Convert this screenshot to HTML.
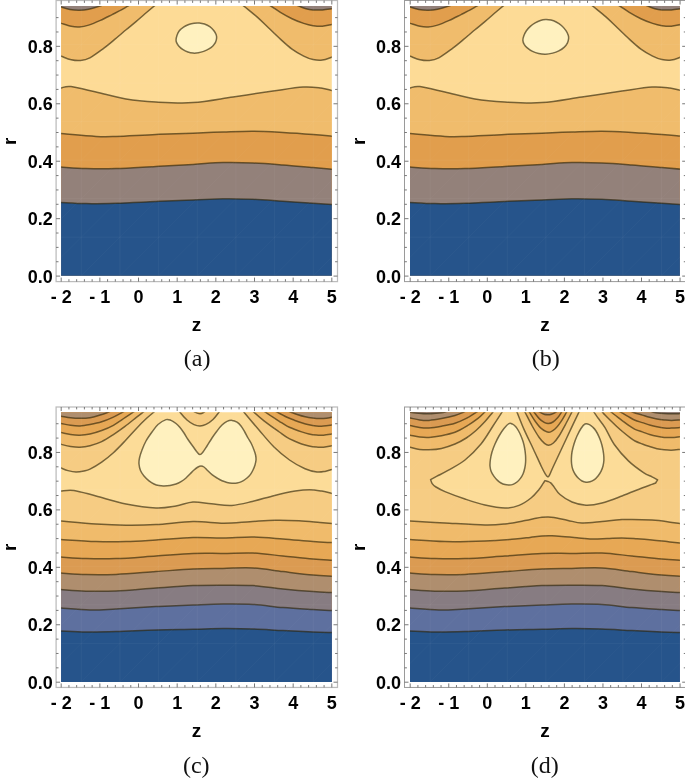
<!DOCTYPE html>
<html><head><meta charset="utf-8"><title>contours</title>
<style>
html,body{margin:0;padding:0;background:#fff;}
body{width:685px;height:779px;overflow:hidden;}
svg{display:block;}
.tl{font-family:"Liberation Sans",sans-serif;font-weight:bold;font-size:18px;fill:#000;}
.al{font-family:"Liberation Sans",sans-serif;font-weight:bold;font-size:19px;fill:#000;}
.cap{font-family:"Liberation Serif",serif;font-size:24px;fill:#111;}
</style></head><body>
<svg width="685" height="779" viewBox="0 0 685 779">
<rect width="685" height="779" fill="#fff"/>
<defs>
<clipPath id="ca"><rect x="61.1" y="6.1" width="270.7" height="269.6"/></clipPath>
<clipPath id="cb"><rect x="410.0" y="6.1" width="269.9" height="269.6"/></clipPath>
<clipPath id="cc"><rect x="61.1" y="412.2" width="270.7" height="269.7"/></clipPath>
<clipPath id="cd"><rect x="410.0" y="412.2" width="269.9" height="269.7"/></clipPath>
</defs>
<g clip-path="url(#ca)"><rect x="50.00" y="-5.00" width="290" height="290" fill="#FDDB96"/>
<path d="M56.00 89.00C56.83 88.83 58.50 88.40 61.00 88.00C63.50 87.60 65.17 85.93 71.00 86.60C76.83 87.27 86.83 89.93 96.00 92.00C105.17 94.07 116.00 97.33 126.00 99.00C136.00 100.67 144.83 101.40 156.00 102.00C167.17 102.60 180.17 103.43 193.00 102.60C205.83 101.77 219.67 98.93 233.00 97.00C246.33 95.07 261.33 92.67 273.00 91.00C284.67 89.33 295.00 87.50 303.00 87.00C311.00 86.50 316.17 87.42 321.00 88.00C325.83 88.58 329.33 89.92 332.00 90.50C334.67 91.08 336.17 91.33 337.00 91.50L337.00 280.70 L56.00 280.70 Z" fill="#F0BC6C"/>
<path d="M56.00 133.20C56.83 133.27 54.33 133.07 61.00 133.60C67.67 134.13 86.83 135.93 96.00 136.40C105.17 136.87 106.00 136.73 116.00 136.40C126.00 136.07 143.17 134.93 156.00 134.40C168.83 133.87 181.83 133.60 193.00 133.20C204.17 132.80 213.00 132.33 223.00 132.00C233.00 131.67 243.00 131.13 253.00 131.20C263.00 131.27 273.00 131.87 283.00 132.40C293.00 132.93 304.83 133.77 313.00 134.40C321.17 135.03 328.00 135.82 332.00 136.20C336.00 136.58 336.17 136.62 337.00 136.70L337.00 280.70 L56.00 280.70 Z" fill="#E19E4D"/>
<path d="M56.00 166.60C56.83 166.67 56.00 166.67 61.00 167.00C66.00 167.33 76.83 168.33 86.00 168.60C95.17 168.87 104.33 168.97 116.00 168.60C127.67 168.23 143.17 167.10 156.00 166.40C168.83 165.70 181.83 165.03 193.00 164.40C204.17 163.77 213.00 162.83 223.00 162.60C233.00 162.37 243.00 162.60 253.00 163.00C263.00 163.40 273.00 164.23 283.00 165.00C293.00 165.77 304.83 166.90 313.00 167.60C321.17 168.30 328.00 168.87 332.00 169.20C336.00 169.53 336.17 169.53 337.00 169.60L337.00 280.70 L56.00 280.70 Z" fill="#93817A"/>
<path d="M56.00 202.10C56.83 202.15 56.00 202.15 61.00 202.40C66.00 202.65 76.83 203.47 86.00 203.60C95.17 203.73 104.33 203.55 116.00 203.20C127.67 202.85 143.17 202.03 156.00 201.50C168.83 200.97 181.83 200.45 193.00 200.00C204.17 199.55 213.00 198.92 223.00 198.80C233.00 198.68 243.00 198.88 253.00 199.30C263.00 199.72 273.00 200.63 283.00 201.30C293.00 201.97 304.83 202.77 313.00 203.30C321.17 203.83 328.00 204.25 332.00 204.50C336.00 204.75 336.17 204.75 337.00 204.80L337.00 280.70 L56.00 280.70 Z" fill="#26548B"/>
<path d="M56.00 54.30C56.88 54.63 58.77 55.38 61.30 56.30C63.83 57.22 68.00 59.10 71.20 59.80C74.40 60.50 77.38 60.83 80.50 60.50C83.62 60.17 86.20 59.70 89.90 57.80C93.60 55.90 98.62 52.12 102.70 49.10C106.78 46.08 110.50 42.92 114.40 39.70C118.30 36.48 122.50 32.82 126.10 29.80C129.70 26.78 132.85 24.27 136.00 21.60C139.15 18.93 142.00 16.37 145.00 13.80C148.00 11.23 151.50 8.33 154.00 6.20C156.50 4.07 159.00 1.87 160.00 1.00L50.00 -5.00Z" fill="#F0BC6C"/>
<path d="M56.00 21.60C56.88 21.90 58.77 22.62 61.30 23.40C63.83 24.18 68.18 25.72 71.20 26.30C74.22 26.88 76.48 27.10 79.40 26.90C82.32 26.70 85.20 26.18 88.70 25.10C92.20 24.02 96.50 22.15 100.40 20.40C104.30 18.65 108.60 16.35 112.10 14.60C115.60 12.85 118.78 11.32 121.40 9.90C124.02 8.48 125.53 7.42 127.80 6.10C130.07 4.78 133.80 2.68 135.00 2.00L50.00 -5.00Z" fill="#E19E4D"/>
<path d="M56.00 5.00C56.88 5.33 58.97 6.23 61.30 7.00C63.63 7.77 66.98 9.05 70.00 9.60C73.02 10.15 76.28 10.35 79.40 10.30C82.52 10.25 85.30 10.00 88.70 9.30C92.10 8.60 96.92 7.07 99.80 6.10C102.68 5.13 104.97 3.93 106.00 3.50L50.00 -5.00Z" fill="#93817A"/>
<path d="M337.00 55.20C336.12 55.53 334.13 56.38 331.70 57.20C329.27 58.02 325.50 59.70 322.40 60.10C319.30 60.50 316.22 60.27 313.10 59.60C309.98 58.93 307.22 57.85 303.70 56.10C300.18 54.35 295.88 51.93 292.00 49.10C288.12 46.27 284.28 42.62 280.40 39.10C276.52 35.58 272.60 31.70 268.70 28.00C264.80 24.30 261.12 20.53 257.00 16.90C252.88 13.27 247.17 8.85 244.00 6.20C240.83 3.55 239.00 1.87 238.00 1.00L340.00 -5.00Z" fill="#F0BC6C"/>
<path d="M337.00 23.40C336.12 23.58 334.13 24.02 331.70 24.50C329.27 24.98 325.50 26.10 322.40 26.30C319.30 26.50 316.22 26.18 313.10 25.70C309.98 25.22 307.22 24.57 303.70 23.40C300.18 22.23 295.88 20.55 292.00 18.70C288.12 16.85 283.90 14.40 280.40 12.30C276.90 10.20 274.07 7.98 271.00 6.10C267.93 4.22 263.50 1.85 262.00 1.00L340.00 -5.00Z" fill="#E19E4D"/>
<path d="M337.00 8.00C336.12 8.13 334.13 8.48 331.70 8.80C329.27 9.12 325.52 9.72 322.40 9.90C319.28 10.08 315.73 10.08 313.00 9.90C310.27 9.72 308.33 9.43 306.00 8.80C303.67 8.17 301.33 7.07 299.00 6.10C296.67 5.13 293.17 3.52 292.00 3.00L340.00 -5.00Z" fill="#93817A"/>
<path d="M176.07 39.78C176.14 38.61 176.44 36.86 176.95 35.40C177.46 33.94 178.04 32.41 179.14 31.02C180.23 29.63 181.92 28.17 183.52 27.08C185.12 25.98 187.02 25.11 188.77 24.45C190.52 23.79 192.28 23.39 194.03 23.14C195.78 22.89 197.53 22.82 199.28 22.96C201.03 23.11 202.79 23.40 204.54 24.01C206.29 24.62 208.27 25.55 209.80 26.64C211.33 27.73 212.69 29.26 213.74 30.58C214.79 31.89 215.62 33.29 216.10 34.53C216.58 35.77 216.73 36.72 216.63 38.03C216.53 39.34 216.12 41.10 215.49 42.41C214.86 43.72 213.96 44.81 212.86 45.91C211.77 47.00 210.45 48.07 208.92 48.98C207.39 49.88 205.41 50.71 203.66 51.34C201.91 51.97 200.16 52.45 198.41 52.74C196.66 53.03 194.90 53.21 193.15 53.09C191.40 52.97 189.65 52.65 187.90 52.04C186.15 51.43 184.17 50.44 182.64 49.42C181.11 48.40 179.72 47.08 178.70 45.91C177.68 44.74 176.95 43.43 176.51 42.41C176.07 41.39 176.00 40.95 176.07 39.78Z" fill="#FFF1BF"/>
<path d="M56.00 89.00C56.83 88.83 58.50 88.40 61.00 88.00C63.50 87.60 65.17 85.93 71.00 86.60C76.83 87.27 86.83 89.93 96.00 92.00C105.17 94.07 116.00 97.33 126.00 99.00C136.00 100.67 144.83 101.40 156.00 102.00C167.17 102.60 180.17 103.43 193.00 102.60C205.83 101.77 219.67 98.93 233.00 97.00C246.33 95.07 261.33 92.67 273.00 91.00C284.67 89.33 295.00 87.50 303.00 87.00C311.00 86.50 316.17 87.42 321.00 88.00C325.83 88.58 329.33 89.92 332.00 90.50C334.67 91.08 336.17 91.33 337.00 91.50" fill="none" stroke="#2e2408" stroke-opacity="0.64" stroke-width="1.5" stroke-linejoin="round"/>
<path d="M56.00 133.20C56.83 133.27 54.33 133.07 61.00 133.60C67.67 134.13 86.83 135.93 96.00 136.40C105.17 136.87 106.00 136.73 116.00 136.40C126.00 136.07 143.17 134.93 156.00 134.40C168.83 133.87 181.83 133.60 193.00 133.20C204.17 132.80 213.00 132.33 223.00 132.00C233.00 131.67 243.00 131.13 253.00 131.20C263.00 131.27 273.00 131.87 283.00 132.40C293.00 132.93 304.83 133.77 313.00 134.40C321.17 135.03 328.00 135.82 332.00 136.20C336.00 136.58 336.17 136.62 337.00 136.70" fill="none" stroke="#2e2408" stroke-opacity="0.64" stroke-width="1.5" stroke-linejoin="round"/>
<path d="M56.00 166.60C56.83 166.67 56.00 166.67 61.00 167.00C66.00 167.33 76.83 168.33 86.00 168.60C95.17 168.87 104.33 168.97 116.00 168.60C127.67 168.23 143.17 167.10 156.00 166.40C168.83 165.70 181.83 165.03 193.00 164.40C204.17 163.77 213.00 162.83 223.00 162.60C233.00 162.37 243.00 162.60 253.00 163.00C263.00 163.40 273.00 164.23 283.00 165.00C293.00 165.77 304.83 166.90 313.00 167.60C321.17 168.30 328.00 168.87 332.00 169.20C336.00 169.53 336.17 169.53 337.00 169.60" fill="none" stroke="#2e2408" stroke-opacity="0.64" stroke-width="1.5" stroke-linejoin="round"/>
<path d="M56.00 202.10C56.83 202.15 56.00 202.15 61.00 202.40C66.00 202.65 76.83 203.47 86.00 203.60C95.17 203.73 104.33 203.55 116.00 203.20C127.67 202.85 143.17 202.03 156.00 201.50C168.83 200.97 181.83 200.45 193.00 200.00C204.17 199.55 213.00 198.92 223.00 198.80C233.00 198.68 243.00 198.88 253.00 199.30C263.00 199.72 273.00 200.63 283.00 201.30C293.00 201.97 304.83 202.77 313.00 203.30C321.17 203.83 328.00 204.25 332.00 204.50C336.00 204.75 336.17 204.75 337.00 204.80" fill="none" stroke="#2e2408" stroke-opacity="0.64" stroke-width="1.5" stroke-linejoin="round"/>
<path d="M56.00 54.30C56.88 54.63 58.77 55.38 61.30 56.30C63.83 57.22 68.00 59.10 71.20 59.80C74.40 60.50 77.38 60.83 80.50 60.50C83.62 60.17 86.20 59.70 89.90 57.80C93.60 55.90 98.62 52.12 102.70 49.10C106.78 46.08 110.50 42.92 114.40 39.70C118.30 36.48 122.50 32.82 126.10 29.80C129.70 26.78 132.85 24.27 136.00 21.60C139.15 18.93 142.00 16.37 145.00 13.80C148.00 11.23 151.50 8.33 154.00 6.20C156.50 4.07 159.00 1.87 160.00 1.00" fill="none" stroke="#2e2408" stroke-opacity="0.64" stroke-width="1.5" stroke-linejoin="round"/>
<path d="M56.00 21.60C56.88 21.90 58.77 22.62 61.30 23.40C63.83 24.18 68.18 25.72 71.20 26.30C74.22 26.88 76.48 27.10 79.40 26.90C82.32 26.70 85.20 26.18 88.70 25.10C92.20 24.02 96.50 22.15 100.40 20.40C104.30 18.65 108.60 16.35 112.10 14.60C115.60 12.85 118.78 11.32 121.40 9.90C124.02 8.48 125.53 7.42 127.80 6.10C130.07 4.78 133.80 2.68 135.00 2.00" fill="none" stroke="#2e2408" stroke-opacity="0.64" stroke-width="1.5" stroke-linejoin="round"/>
<path d="M56.00 5.00C56.88 5.33 58.97 6.23 61.30 7.00C63.63 7.77 66.98 9.05 70.00 9.60C73.02 10.15 76.28 10.35 79.40 10.30C82.52 10.25 85.30 10.00 88.70 9.30C92.10 8.60 96.92 7.07 99.80 6.10C102.68 5.13 104.97 3.93 106.00 3.50" fill="none" stroke="#2e2408" stroke-opacity="0.64" stroke-width="1.5" stroke-linejoin="round"/>
<path d="M238.00 1.00C239.00 1.87 240.83 3.55 244.00 6.20C247.17 8.85 252.88 13.27 257.00 16.90C261.12 20.53 264.80 24.30 268.70 28.00C272.60 31.70 276.52 35.58 280.40 39.10C284.28 42.62 288.12 46.27 292.00 49.10C295.88 51.93 300.18 54.35 303.70 56.10C307.22 57.85 309.98 58.93 313.10 59.60C316.22 60.27 319.30 60.50 322.40 60.10C325.50 59.70 329.27 58.02 331.70 57.20C334.13 56.38 336.12 55.53 337.00 55.20" fill="none" stroke="#2e2408" stroke-opacity="0.64" stroke-width="1.5" stroke-linejoin="round"/>
<path d="M262.00 1.00C263.50 1.85 267.93 4.22 271.00 6.10C274.07 7.98 276.90 10.20 280.40 12.30C283.90 14.40 288.12 16.85 292.00 18.70C295.88 20.55 300.18 22.23 303.70 23.40C307.22 24.57 309.98 25.22 313.10 25.70C316.22 26.18 319.30 26.50 322.40 26.30C325.50 26.10 329.27 24.98 331.70 24.50C334.13 24.02 336.12 23.58 337.00 23.40" fill="none" stroke="#2e2408" stroke-opacity="0.64" stroke-width="1.5" stroke-linejoin="round"/>
<path d="M292.00 3.00C293.17 3.52 296.67 5.13 299.00 6.10C301.33 7.07 303.67 8.17 306.00 8.80C308.33 9.43 310.27 9.72 313.00 9.90C315.73 10.08 319.28 10.08 322.40 9.90C325.52 9.72 329.27 9.12 331.70 8.80C334.13 8.48 336.12 8.13 337.00 8.00" fill="none" stroke="#2e2408" stroke-opacity="0.64" stroke-width="1.5" stroke-linejoin="round"/>
<path d="M176.07 39.78C176.14 38.61 176.44 36.86 176.95 35.40C177.46 33.94 178.04 32.41 179.14 31.02C180.23 29.63 181.92 28.17 183.52 27.08C185.12 25.98 187.02 25.11 188.77 24.45C190.52 23.79 192.28 23.39 194.03 23.14C195.78 22.89 197.53 22.82 199.28 22.96C201.03 23.11 202.79 23.40 204.54 24.01C206.29 24.62 208.27 25.55 209.80 26.64C211.33 27.73 212.69 29.26 213.74 30.58C214.79 31.89 215.62 33.29 216.10 34.53C216.58 35.77 216.73 36.72 216.63 38.03C216.53 39.34 216.12 41.10 215.49 42.41C214.86 43.72 213.96 44.81 212.86 45.91C211.77 47.00 210.45 48.07 208.92 48.98C207.39 49.88 205.41 50.71 203.66 51.34C201.91 51.97 200.16 52.45 198.41 52.74C196.66 53.03 194.90 53.21 193.15 53.09C191.40 52.97 189.65 52.65 187.90 52.04C186.15 51.43 184.17 50.44 182.64 49.42C181.11 48.40 179.72 47.08 178.70 45.91C177.68 44.74 176.95 43.43 176.51 42.41C176.07 41.39 176.00 40.95 176.07 39.78Z" fill="none" stroke="#2e2408" stroke-opacity="0.64" stroke-width="1.5" stroke-linejoin="round"/><path d="M81.30 6.10V275.70M119.96 6.10V275.70M158.62 6.10V275.70M197.28 6.10V275.70M235.94 6.10V275.70M274.60 6.10V275.70M313.26 6.10V275.70M61.20 237.19H331.82M61.20 198.67H331.82M61.20 160.16H331.82M61.20 121.64H331.82M61.20 83.13H331.82M61.20 44.61H331.82" stroke="#fff" stroke-opacity="0.06" stroke-width="0.8" fill="none"/><path d="M42.64 275.70L81.30 237.19M42.64 237.19L81.30 198.67M42.64 198.67L81.30 160.16M42.64 160.16L81.30 121.64M42.64 121.64L81.30 83.13M42.64 83.13L81.30 44.61M42.64 44.61L81.30 6.10M81.30 275.70L119.96 237.19M81.30 237.19L119.96 198.67M81.30 198.67L119.96 160.16M81.30 160.16L119.96 121.64M81.30 121.64L119.96 83.13M81.30 83.13L119.96 44.61M81.30 44.61L119.96 6.10M119.96 275.70L158.62 237.19M119.96 237.19L158.62 198.67M119.96 198.67L158.62 160.16M119.96 160.16L158.62 121.64M119.96 121.64L158.62 83.13M119.96 83.13L158.62 44.61M119.96 44.61L158.62 6.10M158.62 275.70L197.28 237.19M158.62 237.19L197.28 198.67M158.62 198.67L197.28 160.16M158.62 160.16L197.28 121.64M158.62 121.64L197.28 83.13M158.62 83.13L197.28 44.61M158.62 44.61L197.28 6.10M197.28 275.70L235.94 237.19M197.28 237.19L235.94 198.67M197.28 198.67L235.94 160.16M197.28 160.16L235.94 121.64M197.28 121.64L235.94 83.13M197.28 83.13L235.94 44.61M197.28 44.61L235.94 6.10M235.94 275.70L274.60 237.19M235.94 237.19L274.60 198.67M235.94 198.67L274.60 160.16M235.94 160.16L274.60 121.64M235.94 121.64L274.60 83.13M235.94 83.13L274.60 44.61M235.94 44.61L274.60 6.10M274.60 275.70L313.26 237.19M274.60 237.19L313.26 198.67M274.60 198.67L313.26 160.16M274.60 160.16L313.26 121.64M274.60 121.64L313.26 83.13M274.60 83.13L313.26 44.61M274.60 44.61L313.26 6.10M313.26 275.70L351.92 237.19M313.26 237.19L351.92 198.67M313.26 198.67L351.92 160.16M313.26 160.16L351.92 121.64M313.26 121.64L351.92 83.13M313.26 83.13L351.92 44.61M313.26 44.61L351.92 6.10" stroke="#fff" stroke-opacity="0.035" stroke-width="0.8" fill="none"/></g>
<g clip-path="url(#cb)"><rect x="398.90" y="-5.00" width="290" height="290" fill="#FDDB96"/>
<path d="M404.90 89.00C405.73 88.83 407.40 88.40 409.90 88.00C412.40 87.60 414.07 85.93 419.90 86.60C425.73 87.27 435.73 89.93 444.90 92.00C454.07 94.07 464.90 97.33 474.90 99.00C484.90 100.67 493.73 101.40 504.90 102.00C516.07 102.60 529.07 103.43 541.90 102.60C554.73 101.77 568.57 98.93 581.90 97.00C595.23 95.07 610.23 92.67 621.90 91.00C633.57 89.33 643.90 87.50 651.90 87.00C659.90 86.50 665.07 87.42 669.90 88.00C674.73 88.58 678.23 89.92 680.90 90.50C683.57 91.08 685.07 91.33 685.90 91.50L685.90 280.70 L404.90 280.70 Z" fill="#F0BC6C"/>
<path d="M404.90 133.20C405.73 133.27 403.23 133.07 409.90 133.60C416.57 134.13 435.73 135.93 444.90 136.40C454.07 136.87 454.90 136.73 464.90 136.40C474.90 136.07 492.07 134.93 504.90 134.40C517.73 133.87 530.73 133.60 541.90 133.20C553.07 132.80 561.90 132.33 571.90 132.00C581.90 131.67 591.90 131.13 601.90 131.20C611.90 131.27 621.90 131.87 631.90 132.40C641.90 132.93 653.73 133.77 661.90 134.40C670.07 135.03 676.90 135.82 680.90 136.20C684.90 136.58 685.07 136.62 685.90 136.70L685.90 280.70 L404.90 280.70 Z" fill="#E19E4D"/>
<path d="M404.90 166.60C405.73 166.67 404.90 166.67 409.90 167.00C414.90 167.33 425.73 168.33 434.90 168.60C444.07 168.87 453.23 168.97 464.90 168.60C476.57 168.23 492.07 167.10 504.90 166.40C517.73 165.70 530.73 165.03 541.90 164.40C553.07 163.77 561.90 162.83 571.90 162.60C581.90 162.37 591.90 162.60 601.90 163.00C611.90 163.40 621.90 164.23 631.90 165.00C641.90 165.77 653.73 166.90 661.90 167.60C670.07 168.30 676.90 168.87 680.90 169.20C684.90 169.53 685.07 169.53 685.90 169.60L685.90 280.70 L404.90 280.70 Z" fill="#93817A"/>
<path d="M404.90 202.10C405.73 202.15 404.90 202.15 409.90 202.40C414.90 202.65 425.73 203.47 434.90 203.60C444.07 203.73 453.23 203.55 464.90 203.20C476.57 202.85 492.07 202.03 504.90 201.50C517.73 200.97 530.73 200.45 541.90 200.00C553.07 199.55 561.90 198.92 571.90 198.80C581.90 198.68 591.90 198.88 601.90 199.30C611.90 199.72 621.90 200.63 631.90 201.30C641.90 201.97 653.73 202.77 661.90 203.30C670.07 203.83 676.90 204.25 680.90 204.50C684.90 204.75 685.07 204.75 685.90 204.80L685.90 280.70 L404.90 280.70 Z" fill="#26548B"/>
<path d="M404.90 54.30C405.78 54.63 407.67 55.38 410.20 56.30C412.73 57.22 416.90 59.10 420.10 59.80C423.30 60.50 426.28 60.83 429.40 60.50C432.52 60.17 435.10 59.70 438.80 57.80C442.50 55.90 447.52 52.12 451.60 49.10C455.68 46.08 459.40 42.92 463.30 39.70C467.20 36.48 471.40 32.82 475.00 29.80C478.60 26.78 481.75 24.27 484.90 21.60C488.05 18.93 490.90 16.37 493.90 13.80C496.90 11.23 500.40 8.33 502.90 6.20C505.40 4.07 507.90 1.87 508.90 1.00L398.90 -5.00Z" fill="#F0BC6C"/>
<path d="M404.90 21.60C405.78 21.90 407.67 22.62 410.20 23.40C412.73 24.18 417.08 25.72 420.10 26.30C423.12 26.88 425.38 27.10 428.30 26.90C431.22 26.70 434.10 26.18 437.60 25.10C441.10 24.02 445.40 22.15 449.30 20.40C453.20 18.65 457.50 16.35 461.00 14.60C464.50 12.85 467.68 11.32 470.30 9.90C472.92 8.48 474.43 7.42 476.70 6.10C478.97 4.78 482.70 2.68 483.90 2.00L398.90 -5.00Z" fill="#E19E4D"/>
<path d="M404.90 5.00C405.78 5.33 407.87 6.23 410.20 7.00C412.53 7.77 415.88 9.05 418.90 9.60C421.92 10.15 425.18 10.35 428.30 10.30C431.42 10.25 434.20 10.00 437.60 9.30C441.00 8.60 445.82 7.07 448.70 6.10C451.58 5.13 453.87 3.93 454.90 3.50L398.90 -5.00Z" fill="#93817A"/>
<path d="M685.90 55.20C685.02 55.53 683.03 56.38 680.60 57.20C678.17 58.02 674.40 59.70 671.30 60.10C668.20 60.50 665.12 60.27 662.00 59.60C658.88 58.93 656.12 57.85 652.60 56.10C649.08 54.35 644.78 51.93 640.90 49.10C637.02 46.27 633.18 42.62 629.30 39.10C625.42 35.58 621.50 31.70 617.60 28.00C613.70 24.30 610.02 20.53 605.90 16.90C601.78 13.27 596.07 8.85 592.90 6.20C589.73 3.55 587.90 1.87 586.90 1.00L688.90 -5.00Z" fill="#F0BC6C"/>
<path d="M685.90 23.40C685.02 23.58 683.03 24.02 680.60 24.50C678.17 24.98 674.40 26.10 671.30 26.30C668.20 26.50 665.12 26.18 662.00 25.70C658.88 25.22 656.12 24.57 652.60 23.40C649.08 22.23 644.78 20.55 640.90 18.70C637.02 16.85 632.80 14.40 629.30 12.30C625.80 10.20 622.97 7.98 619.90 6.10C616.83 4.22 612.40 1.85 610.90 1.00L688.90 -5.00Z" fill="#E19E4D"/>
<path d="M685.90 8.00C685.02 8.13 683.03 8.48 680.60 8.80C678.17 9.12 674.42 9.72 671.30 9.90C668.18 10.08 664.63 10.08 661.90 9.90C659.17 9.72 657.23 9.43 654.90 8.80C652.57 8.17 650.23 7.07 647.90 6.10C645.57 5.13 642.07 3.52 640.90 3.00L688.90 -5.00Z" fill="#93817A"/>
<path d="M522.88 40.41C522.81 39.02 523.17 37.64 523.76 36.03C524.35 34.42 525.29 32.38 526.39 30.77C527.49 29.16 528.87 27.70 530.33 26.39C531.79 25.08 533.47 23.88 535.15 22.89C536.83 21.90 538.65 21.00 540.40 20.44C542.15 19.89 543.91 19.62 545.66 19.56C547.41 19.50 549.16 19.68 550.91 20.09C552.66 20.50 554.42 21.11 556.17 22.01C557.92 22.92 559.81 24.13 561.42 25.52C563.02 26.91 564.66 28.73 565.80 30.34C566.94 31.95 567.79 33.76 568.26 35.15C568.73 36.54 568.76 37.34 568.61 38.66C568.46 39.97 568.14 41.58 567.38 43.04C566.62 44.50 565.48 46.11 564.05 47.42C562.62 48.73 560.70 49.97 558.80 50.92C556.90 51.87 554.85 52.55 552.66 53.11C550.47 53.66 548.00 54.18 545.66 54.25C543.32 54.32 540.84 54.03 538.65 53.55C536.46 53.07 534.42 52.31 532.52 51.36C530.62 50.41 528.65 49.02 527.26 47.85C525.87 46.68 524.93 45.59 524.20 44.35C523.47 43.11 522.95 41.80 522.88 40.41Z" fill="#FFF1BF"/>
<path d="M404.90 89.00C405.73 88.83 407.40 88.40 409.90 88.00C412.40 87.60 414.07 85.93 419.90 86.60C425.73 87.27 435.73 89.93 444.90 92.00C454.07 94.07 464.90 97.33 474.90 99.00C484.90 100.67 493.73 101.40 504.90 102.00C516.07 102.60 529.07 103.43 541.90 102.60C554.73 101.77 568.57 98.93 581.90 97.00C595.23 95.07 610.23 92.67 621.90 91.00C633.57 89.33 643.90 87.50 651.90 87.00C659.90 86.50 665.07 87.42 669.90 88.00C674.73 88.58 678.23 89.92 680.90 90.50C683.57 91.08 685.07 91.33 685.90 91.50" fill="none" stroke="#2e2408" stroke-opacity="0.64" stroke-width="1.5" stroke-linejoin="round"/>
<path d="M404.90 133.20C405.73 133.27 403.23 133.07 409.90 133.60C416.57 134.13 435.73 135.93 444.90 136.40C454.07 136.87 454.90 136.73 464.90 136.40C474.90 136.07 492.07 134.93 504.90 134.40C517.73 133.87 530.73 133.60 541.90 133.20C553.07 132.80 561.90 132.33 571.90 132.00C581.90 131.67 591.90 131.13 601.90 131.20C611.90 131.27 621.90 131.87 631.90 132.40C641.90 132.93 653.73 133.77 661.90 134.40C670.07 135.03 676.90 135.82 680.90 136.20C684.90 136.58 685.07 136.62 685.90 136.70" fill="none" stroke="#2e2408" stroke-opacity="0.64" stroke-width="1.5" stroke-linejoin="round"/>
<path d="M404.90 166.60C405.73 166.67 404.90 166.67 409.90 167.00C414.90 167.33 425.73 168.33 434.90 168.60C444.07 168.87 453.23 168.97 464.90 168.60C476.57 168.23 492.07 167.10 504.90 166.40C517.73 165.70 530.73 165.03 541.90 164.40C553.07 163.77 561.90 162.83 571.90 162.60C581.90 162.37 591.90 162.60 601.90 163.00C611.90 163.40 621.90 164.23 631.90 165.00C641.90 165.77 653.73 166.90 661.90 167.60C670.07 168.30 676.90 168.87 680.90 169.20C684.90 169.53 685.07 169.53 685.90 169.60" fill="none" stroke="#2e2408" stroke-opacity="0.64" stroke-width="1.5" stroke-linejoin="round"/>
<path d="M404.90 202.10C405.73 202.15 404.90 202.15 409.90 202.40C414.90 202.65 425.73 203.47 434.90 203.60C444.07 203.73 453.23 203.55 464.90 203.20C476.57 202.85 492.07 202.03 504.90 201.50C517.73 200.97 530.73 200.45 541.90 200.00C553.07 199.55 561.90 198.92 571.90 198.80C581.90 198.68 591.90 198.88 601.90 199.30C611.90 199.72 621.90 200.63 631.90 201.30C641.90 201.97 653.73 202.77 661.90 203.30C670.07 203.83 676.90 204.25 680.90 204.50C684.90 204.75 685.07 204.75 685.90 204.80" fill="none" stroke="#2e2408" stroke-opacity="0.64" stroke-width="1.5" stroke-linejoin="round"/>
<path d="M404.90 54.30C405.78 54.63 407.67 55.38 410.20 56.30C412.73 57.22 416.90 59.10 420.10 59.80C423.30 60.50 426.28 60.83 429.40 60.50C432.52 60.17 435.10 59.70 438.80 57.80C442.50 55.90 447.52 52.12 451.60 49.10C455.68 46.08 459.40 42.92 463.30 39.70C467.20 36.48 471.40 32.82 475.00 29.80C478.60 26.78 481.75 24.27 484.90 21.60C488.05 18.93 490.90 16.37 493.90 13.80C496.90 11.23 500.40 8.33 502.90 6.20C505.40 4.07 507.90 1.87 508.90 1.00" fill="none" stroke="#2e2408" stroke-opacity="0.64" stroke-width="1.5" stroke-linejoin="round"/>
<path d="M404.90 21.60C405.78 21.90 407.67 22.62 410.20 23.40C412.73 24.18 417.08 25.72 420.10 26.30C423.12 26.88 425.38 27.10 428.30 26.90C431.22 26.70 434.10 26.18 437.60 25.10C441.10 24.02 445.40 22.15 449.30 20.40C453.20 18.65 457.50 16.35 461.00 14.60C464.50 12.85 467.68 11.32 470.30 9.90C472.92 8.48 474.43 7.42 476.70 6.10C478.97 4.78 482.70 2.68 483.90 2.00" fill="none" stroke="#2e2408" stroke-opacity="0.64" stroke-width="1.5" stroke-linejoin="round"/>
<path d="M404.90 5.00C405.78 5.33 407.87 6.23 410.20 7.00C412.53 7.77 415.88 9.05 418.90 9.60C421.92 10.15 425.18 10.35 428.30 10.30C431.42 10.25 434.20 10.00 437.60 9.30C441.00 8.60 445.82 7.07 448.70 6.10C451.58 5.13 453.87 3.93 454.90 3.50" fill="none" stroke="#2e2408" stroke-opacity="0.64" stroke-width="1.5" stroke-linejoin="round"/>
<path d="M586.90 1.00C587.90 1.87 589.73 3.55 592.90 6.20C596.07 8.85 601.78 13.27 605.90 16.90C610.02 20.53 613.70 24.30 617.60 28.00C621.50 31.70 625.42 35.58 629.30 39.10C633.18 42.62 637.02 46.27 640.90 49.10C644.78 51.93 649.08 54.35 652.60 56.10C656.12 57.85 658.88 58.93 662.00 59.60C665.12 60.27 668.20 60.50 671.30 60.10C674.40 59.70 678.17 58.02 680.60 57.20C683.03 56.38 685.02 55.53 685.90 55.20" fill="none" stroke="#2e2408" stroke-opacity="0.64" stroke-width="1.5" stroke-linejoin="round"/>
<path d="M610.90 1.00C612.40 1.85 616.83 4.22 619.90 6.10C622.97 7.98 625.80 10.20 629.30 12.30C632.80 14.40 637.02 16.85 640.90 18.70C644.78 20.55 649.08 22.23 652.60 23.40C656.12 24.57 658.88 25.22 662.00 25.70C665.12 26.18 668.20 26.50 671.30 26.30C674.40 26.10 678.17 24.98 680.60 24.50C683.03 24.02 685.02 23.58 685.90 23.40" fill="none" stroke="#2e2408" stroke-opacity="0.64" stroke-width="1.5" stroke-linejoin="round"/>
<path d="M640.90 3.00C642.07 3.52 645.57 5.13 647.90 6.10C650.23 7.07 652.57 8.17 654.90 8.80C657.23 9.43 659.17 9.72 661.90 9.90C664.63 10.08 668.18 10.08 671.30 9.90C674.42 9.72 678.17 9.12 680.60 8.80C683.03 8.48 685.02 8.13 685.90 8.00" fill="none" stroke="#2e2408" stroke-opacity="0.64" stroke-width="1.5" stroke-linejoin="round"/>
<path d="M522.88 40.41C522.81 39.02 523.17 37.64 523.76 36.03C524.35 34.42 525.29 32.38 526.39 30.77C527.49 29.16 528.87 27.70 530.33 26.39C531.79 25.08 533.47 23.88 535.15 22.89C536.83 21.90 538.65 21.00 540.40 20.44C542.15 19.89 543.91 19.62 545.66 19.56C547.41 19.50 549.16 19.68 550.91 20.09C552.66 20.50 554.42 21.11 556.17 22.01C557.92 22.92 559.81 24.13 561.42 25.52C563.02 26.91 564.66 28.73 565.80 30.34C566.94 31.95 567.79 33.76 568.26 35.15C568.73 36.54 568.76 37.34 568.61 38.66C568.46 39.97 568.14 41.58 567.38 43.04C566.62 44.50 565.48 46.11 564.05 47.42C562.62 48.73 560.70 49.97 558.80 50.92C556.90 51.87 554.85 52.55 552.66 53.11C550.47 53.66 548.00 54.18 545.66 54.25C543.32 54.32 540.84 54.03 538.65 53.55C536.46 53.07 534.42 52.31 532.52 51.36C530.62 50.41 528.65 49.02 527.26 47.85C525.87 46.68 524.93 45.59 524.20 44.35C523.47 43.11 522.95 41.80 522.88 40.41Z" fill="none" stroke="#2e2408" stroke-opacity="0.64" stroke-width="1.5" stroke-linejoin="round"/><path d="M430.15 6.10V275.70M468.70 6.10V275.70M507.25 6.10V275.70M545.80 6.10V275.70M584.35 6.10V275.70M622.90 6.10V275.70M661.45 6.10V275.70M410.10 237.19H679.95M410.10 198.67H679.95M410.10 160.16H679.95M410.10 121.64H679.95M410.10 83.13H679.95M410.10 44.61H679.95" stroke="#fff" stroke-opacity="0.06" stroke-width="0.8" fill="none"/><path d="M391.60 275.70L430.15 237.19M391.60 237.19L430.15 198.67M391.60 198.67L430.15 160.16M391.60 160.16L430.15 121.64M391.60 121.64L430.15 83.13M391.60 83.13L430.15 44.61M391.60 44.61L430.15 6.10M430.15 275.70L468.70 237.19M430.15 237.19L468.70 198.67M430.15 198.67L468.70 160.16M430.15 160.16L468.70 121.64M430.15 121.64L468.70 83.13M430.15 83.13L468.70 44.61M430.15 44.61L468.70 6.10M468.70 275.70L507.25 237.19M468.70 237.19L507.25 198.67M468.70 198.67L507.25 160.16M468.70 160.16L507.25 121.64M468.70 121.64L507.25 83.13M468.70 83.13L507.25 44.61M468.70 44.61L507.25 6.10M507.25 275.70L545.80 237.19M507.25 237.19L545.80 198.67M507.25 198.67L545.80 160.16M507.25 160.16L545.80 121.64M507.25 121.64L545.80 83.13M507.25 83.13L545.80 44.61M507.25 44.61L545.80 6.10M545.80 275.70L584.35 237.19M545.80 237.19L584.35 198.67M545.80 198.67L584.35 160.16M545.80 160.16L584.35 121.64M545.80 121.64L584.35 83.13M545.80 83.13L584.35 44.61M545.80 44.61L584.35 6.10M584.35 275.70L622.90 237.19M584.35 237.19L622.90 198.67M584.35 198.67L622.90 160.16M584.35 160.16L622.90 121.64M584.35 121.64L622.90 83.13M584.35 83.13L622.90 44.61M584.35 44.61L622.90 6.10M622.90 275.70L661.45 237.19M622.90 237.19L661.45 198.67M622.90 198.67L661.45 160.16M622.90 160.16L661.45 121.64M622.90 121.64L661.45 83.13M622.90 83.13L661.45 44.61M622.90 44.61L661.45 6.10M661.45 275.70L700.00 237.19M661.45 237.19L700.00 198.67M661.45 198.67L700.00 160.16M661.45 160.16L700.00 121.64M661.45 121.64L700.00 83.13M661.45 83.13L700.00 44.61M661.45 44.61L700.00 6.10" stroke="#fff" stroke-opacity="0.035" stroke-width="0.8" fill="none"/></g>
<g clip-path="url(#cc)"><rect x="50.00" y="401.00" width="290" height="290" fill="#FCDC98"/>
<path d="M56.00 492.00C56.83 491.83 58.00 491.27 61.00 491.00C64.00 490.73 68.17 489.57 74.00 490.40C79.83 491.23 87.33 493.73 96.00 496.00C104.67 498.27 116.00 502.00 126.00 504.00C136.00 506.00 147.67 507.67 156.00 508.00C164.33 508.33 169.83 507.00 176.00 506.00C182.17 505.00 187.10 502.37 193.00 502.00C198.90 501.63 204.93 503.23 211.40 503.80C217.87 504.37 224.98 505.78 231.80 505.40C238.62 505.02 245.15 503.17 252.30 501.50C259.45 499.83 267.55 497.13 274.70 495.40C281.85 493.67 289.40 492.05 295.20 491.10C301.00 490.15 305.07 489.70 309.50 489.70C313.93 489.70 318.05 490.47 321.80 491.10C325.55 491.73 329.47 492.85 332.00 493.50C334.53 494.15 336.17 494.75 337.00 495.00L337.00 686.90 L56.00 686.90 Z" fill="#F6CC83"/>
<path d="M56.00 520.60C56.83 520.67 54.33 520.43 61.00 521.00C67.67 521.57 85.17 523.30 96.00 524.00C106.83 524.70 116.00 525.10 126.00 525.20C136.00 525.30 144.83 525.20 156.00 524.60C167.17 524.00 181.72 521.83 193.00 521.60C204.28 521.37 214.20 523.18 223.70 523.20C233.20 523.22 241.45 522.20 250.00 521.70C258.55 521.20 266.83 520.37 275.00 520.20C283.17 520.03 291.50 520.33 299.00 520.70C306.50 521.07 314.50 521.95 320.00 522.40C325.50 522.85 329.17 523.17 332.00 523.40C334.83 523.63 336.17 523.73 337.00 523.80L337.00 686.90 L56.00 686.90 Z" fill="#F0BB6B"/>
<path d="M56.00 539.20C56.83 539.27 54.33 539.20 61.00 539.60C67.67 540.00 85.17 541.27 96.00 541.60C106.83 541.93 116.00 541.87 126.00 541.60C136.00 541.33 144.83 540.67 156.00 540.00C167.17 539.33 181.83 537.93 193.00 537.60C204.17 537.27 213.00 538.10 223.00 538.00C233.00 537.90 243.00 536.83 253.00 537.00C263.00 537.17 273.00 538.23 283.00 539.00C293.00 539.77 304.83 541.00 313.00 541.60C321.17 542.20 328.00 542.38 332.00 542.60C336.00 542.82 336.17 542.85 337.00 542.90L337.00 686.90 L56.00 686.90 Z" fill="#E7A855"/>
<path d="M56.00 556.60C56.83 556.67 56.00 556.67 61.00 557.00C66.00 557.33 76.83 558.33 86.00 558.60C95.17 558.87 104.33 559.03 116.00 558.60C127.67 558.17 143.17 556.85 156.00 556.00C168.83 555.15 181.83 553.93 193.00 553.50C204.17 553.07 213.00 553.48 223.00 553.40C233.00 553.32 243.00 552.57 253.00 553.00C263.00 553.43 273.00 555.00 283.00 556.00C293.00 557.00 304.83 558.30 313.00 559.00C321.17 559.70 328.00 559.95 332.00 560.20C336.00 560.45 336.17 560.45 337.00 560.50L337.00 686.90 L56.00 686.90 Z" fill="#DB9B52"/>
<path d="M56.00 572.60C56.83 572.67 56.00 572.67 61.00 573.00C66.00 573.33 76.83 574.37 86.00 574.60C95.17 574.83 104.33 574.90 116.00 574.40C127.67 573.90 143.17 572.50 156.00 571.60C168.83 570.70 181.83 569.53 193.00 569.00C204.17 568.47 213.00 568.57 223.00 568.40C233.00 568.23 243.00 567.47 253.00 568.00C263.00 568.53 273.00 570.43 283.00 571.60C293.00 572.77 304.83 574.23 313.00 575.00C321.17 575.77 328.00 575.95 332.00 576.20C336.00 576.45 336.17 576.45 337.00 576.50L337.00 686.90 L56.00 686.90 Z" fill="#AF8E6E"/>
<path d="M56.00 589.20C56.83 589.27 56.00 589.27 61.00 589.60C66.00 589.93 76.83 590.97 86.00 591.20C95.17 591.43 104.33 591.53 116.00 591.00C127.67 590.47 143.17 588.90 156.00 588.00C168.83 587.10 181.83 586.07 193.00 585.60C204.17 585.13 213.00 585.20 223.00 585.20C233.00 585.20 243.00 584.97 253.00 585.60C263.00 586.23 273.00 588.00 283.00 589.00C293.00 590.00 304.83 591.00 313.00 591.60C321.17 592.20 328.00 592.40 332.00 592.60C336.00 592.80 336.17 592.77 337.00 592.80L337.00 686.90 L56.00 686.90 Z" fill="#877C82"/>
<path d="M56.00 607.60C56.83 607.67 55.33 607.60 61.00 608.00C66.67 608.40 80.83 609.83 90.00 610.00C99.17 610.17 105.00 609.57 116.00 609.00C127.00 608.43 143.17 607.27 156.00 606.60C168.83 605.93 181.83 605.43 193.00 605.00C204.17 604.57 213.00 604.10 223.00 604.00C233.00 603.90 243.00 603.80 253.00 604.40C263.00 605.00 273.00 606.73 283.00 607.60C293.00 608.47 304.83 609.10 313.00 609.60C321.17 610.10 328.00 610.40 332.00 610.60C336.00 610.80 336.17 610.77 337.00 610.80L337.00 686.90 L56.00 686.90 Z" fill="#5E709F"/>
<path d="M56.00 630.80C56.83 630.83 56.00 630.80 61.00 631.00C66.00 631.20 76.83 631.90 86.00 632.00C95.17 632.10 104.33 631.93 116.00 631.60C127.67 631.27 143.17 630.38 156.00 630.00C168.83 629.62 181.83 629.53 193.00 629.30C204.17 629.07 213.00 628.65 223.00 628.60C233.00 628.55 243.00 628.67 253.00 629.00C263.00 629.33 273.00 630.10 283.00 630.60C293.00 631.10 304.83 631.68 313.00 632.00C321.17 632.32 328.00 632.40 332.00 632.50C336.00 632.60 336.17 632.58 337.00 632.60L337.00 686.90 L56.00 686.90 Z" fill="#26548B"/>
<path d="M56.00 466.00C56.83 466.33 59.00 467.23 61.00 468.00C63.00 468.77 65.50 469.93 68.00 470.60C70.50 471.27 73.33 471.93 76.00 472.00C78.67 472.07 81.67 471.48 84.00 471.00C86.33 470.52 87.05 470.58 90.00 469.10C92.95 467.62 97.80 464.83 101.70 462.10C105.60 459.37 109.52 456.22 113.40 452.70C117.28 449.18 121.12 445.08 125.00 441.00C128.88 436.92 133.18 431.90 136.70 428.20C140.22 424.50 143.27 421.47 146.10 418.80C148.93 416.13 151.55 414.17 153.70 412.20C155.85 410.23 158.12 407.87 159.00 407.00L50.00 401.00Z" fill="#F6CC83"/>
<path d="M56.00 442.80C56.83 443.05 58.57 443.68 61.00 444.30C63.43 444.92 67.43 446.02 70.60 446.50C73.77 446.98 76.77 447.33 80.00 447.20C83.23 447.07 86.38 446.63 90.00 445.70C93.62 444.77 97.80 443.45 101.70 441.60C105.60 439.75 109.52 437.13 113.40 434.60C117.28 432.07 121.12 429.32 125.00 426.40C128.88 423.48 133.68 419.47 136.70 417.10C139.72 414.73 141.22 413.72 143.10 412.20C144.98 410.68 147.18 408.70 148.00 408.00L50.00 401.00Z" fill="#F0BB6B"/>
<path d="M56.00 431.80C56.83 431.93 58.57 432.13 61.00 432.60C63.43 433.07 67.43 434.17 70.60 434.60C73.77 435.03 76.77 435.30 80.00 435.20C83.23 435.10 86.38 434.78 90.00 434.00C93.62 433.22 97.80 431.95 101.70 430.50C105.60 429.05 109.52 427.43 113.40 425.30C117.28 423.17 121.70 419.88 125.00 417.70C128.30 415.52 130.87 413.82 133.20 412.20C135.53 410.58 138.03 408.70 139.00 408.00L50.00 401.00Z" fill="#E7A855"/>
<path d="M56.00 422.80C56.83 422.92 58.57 423.08 61.00 423.50C63.43 423.92 67.43 424.90 70.60 425.30C73.77 425.70 76.77 426.03 80.00 425.90C83.23 425.77 86.38 425.18 90.00 424.50C93.62 423.82 97.80 423.03 101.70 421.80C105.60 420.57 109.90 418.70 113.40 417.10C116.90 415.50 119.93 413.72 122.70 412.20C125.47 410.68 128.78 408.70 130.00 408.00L50.00 401.00Z" fill="#DB9B52"/>
<path d="M56.00 415.60C56.83 415.70 58.57 415.83 61.00 416.20C63.43 416.57 67.43 417.45 70.60 417.80C73.77 418.15 76.77 418.32 80.00 418.30C83.23 418.28 86.78 418.20 90.00 417.70C93.22 417.20 96.28 416.22 99.30 415.30C102.32 414.38 105.65 413.17 108.10 412.20C110.55 411.23 113.02 409.95 114.00 409.50L50.00 401.00Z" fill="#AF8E6E"/>
<path d="M337.00 467.50C336.17 467.82 334.00 468.75 332.00 469.40C330.00 470.05 327.50 470.97 325.00 471.40C322.50 471.83 320.33 472.43 317.00 472.00C313.67 471.57 309.58 470.80 305.00 468.80C300.42 466.80 294.67 463.63 289.50 460.00C284.33 456.37 279.08 452.00 274.00 447.00C268.92 442.00 264.00 435.80 259.00 430.00C254.00 424.20 247.17 416.03 244.00 412.20C240.83 408.37 240.67 407.87 240.00 407.00L340.00 401.00Z" fill="#F6CC83"/>
<path d="M337.00 444.60C336.15 444.80 334.15 445.37 331.90 445.80C329.65 446.23 326.12 446.98 323.50 447.20C320.88 447.42 318.63 447.30 316.20 447.10C313.77 446.90 311.33 446.52 308.90 446.00C306.47 445.48 304.03 444.83 301.60 444.00C299.17 443.17 296.73 442.10 294.30 441.00C291.87 439.90 289.50 438.90 287.00 437.40C284.50 435.90 283.13 434.77 279.30 432.00C275.47 429.23 268.22 424.10 264.00 420.80C259.78 417.50 256.33 414.42 254.00 412.20C251.67 409.98 250.67 408.28 250.00 407.50L340.00 401.00Z" fill="#F0BB6B"/>
<path d="M337.00 433.20C336.15 433.35 334.15 433.77 331.90 434.10C329.65 434.43 326.12 435.03 323.50 435.20C320.88 435.37 318.63 435.30 316.20 435.10C313.77 434.90 311.33 434.53 308.90 434.00C306.47 433.47 304.03 432.70 301.60 431.90C299.17 431.10 296.73 430.17 294.30 429.20C291.87 428.23 289.50 427.42 287.00 426.10C284.50 424.78 282.88 423.62 279.30 421.30C275.72 418.98 268.72 414.50 265.50 412.20C262.28 409.90 260.92 408.28 260.00 407.50L340.00 401.00Z" fill="#E7A855"/>
<path d="M337.00 424.30C336.15 424.43 334.15 424.80 331.90 425.10C329.65 425.40 326.12 425.97 323.50 426.10C320.88 426.23 318.63 426.12 316.20 425.90C313.77 425.68 311.33 425.32 308.90 424.80C306.47 424.28 304.03 423.57 301.60 422.80C299.17 422.03 296.73 421.12 294.30 420.20C291.87 419.28 289.83 418.63 287.00 417.30C284.17 415.97 280.13 413.75 277.30 412.20C274.47 410.65 271.22 408.70 270.00 408.00L340.00 401.00Z" fill="#DB9B52"/>
<path d="M337.00 416.20C336.15 416.38 333.67 416.95 331.90 417.30C330.13 417.65 328.42 418.08 326.40 418.30C324.38 418.52 322.12 418.65 319.80 418.60C317.48 418.55 314.93 418.30 312.50 418.00C310.07 417.70 307.63 417.33 305.20 416.80C302.77 416.27 300.27 415.57 297.90 414.80C295.53 414.03 293.48 413.17 291.00 412.20C288.52 411.23 284.33 409.53 283.00 409.00L340.00 401.00Z" fill="#AF8E6E"/>
<path d="M177.00 407.00C177.50 407.87 178.33 410.03 180.00 412.20C181.67 414.37 184.67 417.93 187.00 420.00C189.33 422.07 191.83 423.60 194.00 424.60C196.17 425.60 198.00 426.03 200.00 426.00C202.00 425.97 203.83 425.48 206.00 424.40C208.17 423.32 210.83 421.53 213.00 419.50C215.17 417.47 217.50 414.20 219.00 412.20C220.50 410.20 221.50 408.28 222.00 407.50L222.00 412.20 L177.00 412.20Z" fill="#F6CC83"/>
<path d="M193.00 410.00C193.33 410.37 193.83 411.57 195.00 412.20C196.17 412.83 198.50 413.80 200.00 413.80C201.50 413.80 203.00 412.83 204.00 412.20C205.00 411.57 205.67 410.37 206.00 410.00L206.00 412.20 L193.00 412.20Z" fill="#F0BB6B"/>
<path d="M166.00 419.60C163.83 420.28 160.33 422.43 158.00 424.50C155.67 426.57 154.00 429.25 152.00 432.00C150.00 434.75 147.67 438.00 146.00 441.00C144.33 444.00 143.08 447.17 142.00 450.00C140.92 452.83 140.00 455.67 139.50 458.00C139.00 460.33 138.83 461.92 139.00 464.00C139.17 466.08 139.67 468.50 140.50 470.50C141.33 472.50 142.58 474.28 144.00 476.00C145.42 477.72 147.33 479.47 149.00 480.80C150.67 482.13 152.33 483.20 154.00 484.00C155.67 484.80 157.33 485.27 159.00 485.60C160.67 485.93 162.17 486.02 164.00 486.00C165.83 485.98 168.00 485.83 170.00 485.50C172.00 485.17 174.17 484.65 176.00 484.00C177.83 483.35 179.33 482.60 181.00 481.60C182.67 480.60 184.50 479.27 186.00 478.00C187.50 476.73 188.67 475.33 190.00 474.00C191.33 472.67 192.67 471.17 194.00 470.00C195.33 468.83 196.83 467.67 198.00 467.00C199.17 466.33 200.00 466.00 201.00 466.00C202.00 466.00 203.00 466.33 204.00 467.00C205.00 467.67 205.67 468.73 207.00 470.00C208.33 471.27 210.33 473.27 212.00 474.60C213.67 475.93 215.33 476.97 217.00 478.00C218.67 479.03 220.33 480.07 222.00 480.80C223.67 481.53 225.33 482.00 227.00 482.40C228.67 482.80 230.33 483.10 232.00 483.20C233.67 483.30 235.33 483.30 237.00 483.00C238.67 482.70 240.33 482.23 242.00 481.40C243.67 480.57 245.58 479.17 247.00 478.00C248.42 476.83 249.50 475.73 250.50 474.40C251.50 473.07 252.25 471.57 253.00 470.00C253.75 468.43 254.50 466.67 255.00 465.00C255.50 463.33 255.90 461.67 256.00 460.00C256.10 458.33 255.93 456.67 255.60 455.00C255.27 453.33 254.68 451.83 254.00 450.00C253.32 448.17 252.50 446.00 251.50 444.00C250.50 442.00 249.17 440.08 248.00 438.00C246.83 435.92 245.67 433.50 244.50 431.50C243.33 429.50 242.25 427.55 241.00 426.00C239.75 424.45 238.50 423.13 237.00 422.20C235.50 421.27 233.67 420.53 232.00 420.40C230.33 420.27 228.67 420.63 227.00 421.40C225.33 422.17 223.67 423.40 222.00 425.00C220.33 426.60 218.67 428.83 217.00 431.00C215.33 433.17 213.67 435.50 212.00 438.00C210.33 440.50 208.50 443.67 207.00 446.00C205.50 448.33 204.17 450.57 203.00 452.00C201.83 453.43 201.00 454.60 200.00 454.60C199.00 454.60 198.17 453.35 197.00 452.00C195.83 450.65 194.50 448.58 193.00 446.50C191.50 444.42 189.50 441.75 188.00 439.50C186.50 437.25 185.33 435.00 184.00 433.00C182.67 431.00 181.33 429.08 180.00 427.50C178.67 425.92 177.50 424.68 176.00 423.50C174.50 422.32 172.67 421.05 171.00 420.40C169.33 419.75 168.17 418.92 166.00 419.60Z" fill="#FFF1BF"/>
<path d="M56.00 492.00C56.83 491.83 58.00 491.27 61.00 491.00C64.00 490.73 68.17 489.57 74.00 490.40C79.83 491.23 87.33 493.73 96.00 496.00C104.67 498.27 116.00 502.00 126.00 504.00C136.00 506.00 147.67 507.67 156.00 508.00C164.33 508.33 169.83 507.00 176.00 506.00C182.17 505.00 187.10 502.37 193.00 502.00C198.90 501.63 204.93 503.23 211.40 503.80C217.87 504.37 224.98 505.78 231.80 505.40C238.62 505.02 245.15 503.17 252.30 501.50C259.45 499.83 267.55 497.13 274.70 495.40C281.85 493.67 289.40 492.05 295.20 491.10C301.00 490.15 305.07 489.70 309.50 489.70C313.93 489.70 318.05 490.47 321.80 491.10C325.55 491.73 329.47 492.85 332.00 493.50C334.53 494.15 336.17 494.75 337.00 495.00" fill="none" stroke="#2e2408" stroke-opacity="0.64" stroke-width="1.5" stroke-linejoin="round"/>
<path d="M56.00 520.60C56.83 520.67 54.33 520.43 61.00 521.00C67.67 521.57 85.17 523.30 96.00 524.00C106.83 524.70 116.00 525.10 126.00 525.20C136.00 525.30 144.83 525.20 156.00 524.60C167.17 524.00 181.72 521.83 193.00 521.60C204.28 521.37 214.20 523.18 223.70 523.20C233.20 523.22 241.45 522.20 250.00 521.70C258.55 521.20 266.83 520.37 275.00 520.20C283.17 520.03 291.50 520.33 299.00 520.70C306.50 521.07 314.50 521.95 320.00 522.40C325.50 522.85 329.17 523.17 332.00 523.40C334.83 523.63 336.17 523.73 337.00 523.80" fill="none" stroke="#2e2408" stroke-opacity="0.64" stroke-width="1.5" stroke-linejoin="round"/>
<path d="M56.00 539.20C56.83 539.27 54.33 539.20 61.00 539.60C67.67 540.00 85.17 541.27 96.00 541.60C106.83 541.93 116.00 541.87 126.00 541.60C136.00 541.33 144.83 540.67 156.00 540.00C167.17 539.33 181.83 537.93 193.00 537.60C204.17 537.27 213.00 538.10 223.00 538.00C233.00 537.90 243.00 536.83 253.00 537.00C263.00 537.17 273.00 538.23 283.00 539.00C293.00 539.77 304.83 541.00 313.00 541.60C321.17 542.20 328.00 542.38 332.00 542.60C336.00 542.82 336.17 542.85 337.00 542.90" fill="none" stroke="#2e2408" stroke-opacity="0.64" stroke-width="1.5" stroke-linejoin="round"/>
<path d="M56.00 556.60C56.83 556.67 56.00 556.67 61.00 557.00C66.00 557.33 76.83 558.33 86.00 558.60C95.17 558.87 104.33 559.03 116.00 558.60C127.67 558.17 143.17 556.85 156.00 556.00C168.83 555.15 181.83 553.93 193.00 553.50C204.17 553.07 213.00 553.48 223.00 553.40C233.00 553.32 243.00 552.57 253.00 553.00C263.00 553.43 273.00 555.00 283.00 556.00C293.00 557.00 304.83 558.30 313.00 559.00C321.17 559.70 328.00 559.95 332.00 560.20C336.00 560.45 336.17 560.45 337.00 560.50" fill="none" stroke="#2e2408" stroke-opacity="0.64" stroke-width="1.5" stroke-linejoin="round"/>
<path d="M56.00 572.60C56.83 572.67 56.00 572.67 61.00 573.00C66.00 573.33 76.83 574.37 86.00 574.60C95.17 574.83 104.33 574.90 116.00 574.40C127.67 573.90 143.17 572.50 156.00 571.60C168.83 570.70 181.83 569.53 193.00 569.00C204.17 568.47 213.00 568.57 223.00 568.40C233.00 568.23 243.00 567.47 253.00 568.00C263.00 568.53 273.00 570.43 283.00 571.60C293.00 572.77 304.83 574.23 313.00 575.00C321.17 575.77 328.00 575.95 332.00 576.20C336.00 576.45 336.17 576.45 337.00 576.50" fill="none" stroke="#2e2408" stroke-opacity="0.64" stroke-width="1.5" stroke-linejoin="round"/>
<path d="M56.00 589.20C56.83 589.27 56.00 589.27 61.00 589.60C66.00 589.93 76.83 590.97 86.00 591.20C95.17 591.43 104.33 591.53 116.00 591.00C127.67 590.47 143.17 588.90 156.00 588.00C168.83 587.10 181.83 586.07 193.00 585.60C204.17 585.13 213.00 585.20 223.00 585.20C233.00 585.20 243.00 584.97 253.00 585.60C263.00 586.23 273.00 588.00 283.00 589.00C293.00 590.00 304.83 591.00 313.00 591.60C321.17 592.20 328.00 592.40 332.00 592.60C336.00 592.80 336.17 592.77 337.00 592.80" fill="none" stroke="#2e2408" stroke-opacity="0.64" stroke-width="1.5" stroke-linejoin="round"/>
<path d="M56.00 607.60C56.83 607.67 55.33 607.60 61.00 608.00C66.67 608.40 80.83 609.83 90.00 610.00C99.17 610.17 105.00 609.57 116.00 609.00C127.00 608.43 143.17 607.27 156.00 606.60C168.83 605.93 181.83 605.43 193.00 605.00C204.17 604.57 213.00 604.10 223.00 604.00C233.00 603.90 243.00 603.80 253.00 604.40C263.00 605.00 273.00 606.73 283.00 607.60C293.00 608.47 304.83 609.10 313.00 609.60C321.17 610.10 328.00 610.40 332.00 610.60C336.00 610.80 336.17 610.77 337.00 610.80" fill="none" stroke="#2e2408" stroke-opacity="0.64" stroke-width="1.5" stroke-linejoin="round"/>
<path d="M56.00 630.80C56.83 630.83 56.00 630.80 61.00 631.00C66.00 631.20 76.83 631.90 86.00 632.00C95.17 632.10 104.33 631.93 116.00 631.60C127.67 631.27 143.17 630.38 156.00 630.00C168.83 629.62 181.83 629.53 193.00 629.30C204.17 629.07 213.00 628.65 223.00 628.60C233.00 628.55 243.00 628.67 253.00 629.00C263.00 629.33 273.00 630.10 283.00 630.60C293.00 631.10 304.83 631.68 313.00 632.00C321.17 632.32 328.00 632.40 332.00 632.50C336.00 632.60 336.17 632.58 337.00 632.60" fill="none" stroke="#2e2408" stroke-opacity="0.64" stroke-width="1.5" stroke-linejoin="round"/>
<path d="M56.00 466.00C56.83 466.33 59.00 467.23 61.00 468.00C63.00 468.77 65.50 469.93 68.00 470.60C70.50 471.27 73.33 471.93 76.00 472.00C78.67 472.07 81.67 471.48 84.00 471.00C86.33 470.52 87.05 470.58 90.00 469.10C92.95 467.62 97.80 464.83 101.70 462.10C105.60 459.37 109.52 456.22 113.40 452.70C117.28 449.18 121.12 445.08 125.00 441.00C128.88 436.92 133.18 431.90 136.70 428.20C140.22 424.50 143.27 421.47 146.10 418.80C148.93 416.13 151.55 414.17 153.70 412.20C155.85 410.23 158.12 407.87 159.00 407.00" fill="none" stroke="#2e2408" stroke-opacity="0.64" stroke-width="1.5" stroke-linejoin="round"/>
<path d="M56.00 442.80C56.83 443.05 58.57 443.68 61.00 444.30C63.43 444.92 67.43 446.02 70.60 446.50C73.77 446.98 76.77 447.33 80.00 447.20C83.23 447.07 86.38 446.63 90.00 445.70C93.62 444.77 97.80 443.45 101.70 441.60C105.60 439.75 109.52 437.13 113.40 434.60C117.28 432.07 121.12 429.32 125.00 426.40C128.88 423.48 133.68 419.47 136.70 417.10C139.72 414.73 141.22 413.72 143.10 412.20C144.98 410.68 147.18 408.70 148.00 408.00" fill="none" stroke="#2e2408" stroke-opacity="0.64" stroke-width="1.5" stroke-linejoin="round"/>
<path d="M56.00 431.80C56.83 431.93 58.57 432.13 61.00 432.60C63.43 433.07 67.43 434.17 70.60 434.60C73.77 435.03 76.77 435.30 80.00 435.20C83.23 435.10 86.38 434.78 90.00 434.00C93.62 433.22 97.80 431.95 101.70 430.50C105.60 429.05 109.52 427.43 113.40 425.30C117.28 423.17 121.70 419.88 125.00 417.70C128.30 415.52 130.87 413.82 133.20 412.20C135.53 410.58 138.03 408.70 139.00 408.00" fill="none" stroke="#2e2408" stroke-opacity="0.64" stroke-width="1.5" stroke-linejoin="round"/>
<path d="M56.00 422.80C56.83 422.92 58.57 423.08 61.00 423.50C63.43 423.92 67.43 424.90 70.60 425.30C73.77 425.70 76.77 426.03 80.00 425.90C83.23 425.77 86.38 425.18 90.00 424.50C93.62 423.82 97.80 423.03 101.70 421.80C105.60 420.57 109.90 418.70 113.40 417.10C116.90 415.50 119.93 413.72 122.70 412.20C125.47 410.68 128.78 408.70 130.00 408.00" fill="none" stroke="#2e2408" stroke-opacity="0.64" stroke-width="1.5" stroke-linejoin="round"/>
<path d="M56.00 415.60C56.83 415.70 58.57 415.83 61.00 416.20C63.43 416.57 67.43 417.45 70.60 417.80C73.77 418.15 76.77 418.32 80.00 418.30C83.23 418.28 86.78 418.20 90.00 417.70C93.22 417.20 96.28 416.22 99.30 415.30C102.32 414.38 105.65 413.17 108.10 412.20C110.55 411.23 113.02 409.95 114.00 409.50" fill="none" stroke="#2e2408" stroke-opacity="0.64" stroke-width="1.5" stroke-linejoin="round"/>
<path d="M240.00 407.00C240.67 407.87 240.83 408.37 244.00 412.20C247.17 416.03 254.00 424.20 259.00 430.00C264.00 435.80 268.92 442.00 274.00 447.00C279.08 452.00 284.33 456.37 289.50 460.00C294.67 463.63 300.42 466.80 305.00 468.80C309.58 470.80 313.67 471.57 317.00 472.00C320.33 472.43 322.50 471.83 325.00 471.40C327.50 470.97 330.00 470.05 332.00 469.40C334.00 468.75 336.17 467.82 337.00 467.50" fill="none" stroke="#2e2408" stroke-opacity="0.64" stroke-width="1.5" stroke-linejoin="round"/>
<path d="M250.00 407.50C250.67 408.28 251.67 409.98 254.00 412.20C256.33 414.42 259.78 417.50 264.00 420.80C268.22 424.10 275.47 429.23 279.30 432.00C283.13 434.77 284.50 435.90 287.00 437.40C289.50 438.90 291.87 439.90 294.30 441.00C296.73 442.10 299.17 443.17 301.60 444.00C304.03 444.83 306.47 445.48 308.90 446.00C311.33 446.52 313.77 446.90 316.20 447.10C318.63 447.30 320.88 447.42 323.50 447.20C326.12 446.98 329.65 446.23 331.90 445.80C334.15 445.37 336.15 444.80 337.00 444.60" fill="none" stroke="#2e2408" stroke-opacity="0.64" stroke-width="1.5" stroke-linejoin="round"/>
<path d="M260.00 407.50C260.92 408.28 262.28 409.90 265.50 412.20C268.72 414.50 275.72 418.98 279.30 421.30C282.88 423.62 284.50 424.78 287.00 426.10C289.50 427.42 291.87 428.23 294.30 429.20C296.73 430.17 299.17 431.10 301.60 431.90C304.03 432.70 306.47 433.47 308.90 434.00C311.33 434.53 313.77 434.90 316.20 435.10C318.63 435.30 320.88 435.37 323.50 435.20C326.12 435.03 329.65 434.43 331.90 434.10C334.15 433.77 336.15 433.35 337.00 433.20" fill="none" stroke="#2e2408" stroke-opacity="0.64" stroke-width="1.5" stroke-linejoin="round"/>
<path d="M270.00 408.00C271.22 408.70 274.47 410.65 277.30 412.20C280.13 413.75 284.17 415.97 287.00 417.30C289.83 418.63 291.87 419.28 294.30 420.20C296.73 421.12 299.17 422.03 301.60 422.80C304.03 423.57 306.47 424.28 308.90 424.80C311.33 425.32 313.77 425.68 316.20 425.90C318.63 426.12 320.88 426.23 323.50 426.10C326.12 425.97 329.65 425.40 331.90 425.10C334.15 424.80 336.15 424.43 337.00 424.30" fill="none" stroke="#2e2408" stroke-opacity="0.64" stroke-width="1.5" stroke-linejoin="round"/>
<path d="M283.00 409.00C284.33 409.53 288.52 411.23 291.00 412.20C293.48 413.17 295.53 414.03 297.90 414.80C300.27 415.57 302.77 416.27 305.20 416.80C307.63 417.33 310.07 417.70 312.50 418.00C314.93 418.30 317.48 418.55 319.80 418.60C322.12 418.65 324.38 418.52 326.40 418.30C328.42 418.08 330.13 417.65 331.90 417.30C333.67 416.95 336.15 416.38 337.00 416.20" fill="none" stroke="#2e2408" stroke-opacity="0.64" stroke-width="1.5" stroke-linejoin="round"/>
<path d="M177.00 407.00C177.50 407.87 178.33 410.03 180.00 412.20C181.67 414.37 184.67 417.93 187.00 420.00C189.33 422.07 191.83 423.60 194.00 424.60C196.17 425.60 198.00 426.03 200.00 426.00C202.00 425.97 203.83 425.48 206.00 424.40C208.17 423.32 210.83 421.53 213.00 419.50C215.17 417.47 217.50 414.20 219.00 412.20C220.50 410.20 221.50 408.28 222.00 407.50" fill="none" stroke="#2e2408" stroke-opacity="0.64" stroke-width="1.5" stroke-linejoin="round"/>
<path d="M193.00 410.00C193.33 410.37 193.83 411.57 195.00 412.20C196.17 412.83 198.50 413.80 200.00 413.80C201.50 413.80 203.00 412.83 204.00 412.20C205.00 411.57 205.67 410.37 206.00 410.00" fill="none" stroke="#2e2408" stroke-opacity="0.64" stroke-width="1.5" stroke-linejoin="round"/>
<path d="M166.00 419.60C163.83 420.28 160.33 422.43 158.00 424.50C155.67 426.57 154.00 429.25 152.00 432.00C150.00 434.75 147.67 438.00 146.00 441.00C144.33 444.00 143.08 447.17 142.00 450.00C140.92 452.83 140.00 455.67 139.50 458.00C139.00 460.33 138.83 461.92 139.00 464.00C139.17 466.08 139.67 468.50 140.50 470.50C141.33 472.50 142.58 474.28 144.00 476.00C145.42 477.72 147.33 479.47 149.00 480.80C150.67 482.13 152.33 483.20 154.00 484.00C155.67 484.80 157.33 485.27 159.00 485.60C160.67 485.93 162.17 486.02 164.00 486.00C165.83 485.98 168.00 485.83 170.00 485.50C172.00 485.17 174.17 484.65 176.00 484.00C177.83 483.35 179.33 482.60 181.00 481.60C182.67 480.60 184.50 479.27 186.00 478.00C187.50 476.73 188.67 475.33 190.00 474.00C191.33 472.67 192.67 471.17 194.00 470.00C195.33 468.83 196.83 467.67 198.00 467.00C199.17 466.33 200.00 466.00 201.00 466.00C202.00 466.00 203.00 466.33 204.00 467.00C205.00 467.67 205.67 468.73 207.00 470.00C208.33 471.27 210.33 473.27 212.00 474.60C213.67 475.93 215.33 476.97 217.00 478.00C218.67 479.03 220.33 480.07 222.00 480.80C223.67 481.53 225.33 482.00 227.00 482.40C228.67 482.80 230.33 483.10 232.00 483.20C233.67 483.30 235.33 483.30 237.00 483.00C238.67 482.70 240.33 482.23 242.00 481.40C243.67 480.57 245.58 479.17 247.00 478.00C248.42 476.83 249.50 475.73 250.50 474.40C251.50 473.07 252.25 471.57 253.00 470.00C253.75 468.43 254.50 466.67 255.00 465.00C255.50 463.33 255.90 461.67 256.00 460.00C256.10 458.33 255.93 456.67 255.60 455.00C255.27 453.33 254.68 451.83 254.00 450.00C253.32 448.17 252.50 446.00 251.50 444.00C250.50 442.00 249.17 440.08 248.00 438.00C246.83 435.92 245.67 433.50 244.50 431.50C243.33 429.50 242.25 427.55 241.00 426.00C239.75 424.45 238.50 423.13 237.00 422.20C235.50 421.27 233.67 420.53 232.00 420.40C230.33 420.27 228.67 420.63 227.00 421.40C225.33 422.17 223.67 423.40 222.00 425.00C220.33 426.60 218.67 428.83 217.00 431.00C215.33 433.17 213.67 435.50 212.00 438.00C210.33 440.50 208.50 443.67 207.00 446.00C205.50 448.33 204.17 450.57 203.00 452.00C201.83 453.43 201.00 454.60 200.00 454.60C199.00 454.60 198.17 453.35 197.00 452.00C195.83 450.65 194.50 448.58 193.00 446.50C191.50 444.42 189.50 441.75 188.00 439.50C186.50 437.25 185.33 435.00 184.00 433.00C182.67 431.00 181.33 429.08 180.00 427.50C178.67 425.92 177.50 424.68 176.00 423.50C174.50 422.32 172.67 421.05 171.00 420.40C169.33 419.75 168.17 418.92 166.00 419.60Z" fill="none" stroke="#2e2408" stroke-opacity="0.64" stroke-width="1.5" stroke-linejoin="round"/><path d="M81.30 412.20V681.90M119.96 412.20V681.90M158.62 412.20V681.90M197.28 412.20V681.90M235.94 412.20V681.90M274.60 412.20V681.90M313.26 412.20V681.90M61.20 643.37H331.82M61.20 604.84H331.82M61.20 566.31H331.82M61.20 527.79H331.82M61.20 489.26H331.82M61.20 450.73H331.82" stroke="#fff" stroke-opacity="0.06" stroke-width="0.8" fill="none"/><path d="M42.64 681.90L81.30 643.37M42.64 643.37L81.30 604.84M42.64 604.84L81.30 566.31M42.64 566.31L81.30 527.79M42.64 527.79L81.30 489.26M42.64 489.26L81.30 450.73M42.64 450.73L81.30 412.20M81.30 681.90L119.96 643.37M81.30 643.37L119.96 604.84M81.30 604.84L119.96 566.31M81.30 566.31L119.96 527.79M81.30 527.79L119.96 489.26M81.30 489.26L119.96 450.73M81.30 450.73L119.96 412.20M119.96 681.90L158.62 643.37M119.96 643.37L158.62 604.84M119.96 604.84L158.62 566.31M119.96 566.31L158.62 527.79M119.96 527.79L158.62 489.26M119.96 489.26L158.62 450.73M119.96 450.73L158.62 412.20M158.62 681.90L197.28 643.37M158.62 643.37L197.28 604.84M158.62 604.84L197.28 566.31M158.62 566.31L197.28 527.79M158.62 527.79L197.28 489.26M158.62 489.26L197.28 450.73M158.62 450.73L197.28 412.20M197.28 681.90L235.94 643.37M197.28 643.37L235.94 604.84M197.28 604.84L235.94 566.31M197.28 566.31L235.94 527.79M197.28 527.79L235.94 489.26M197.28 489.26L235.94 450.73M197.28 450.73L235.94 412.20M235.94 681.90L274.60 643.37M235.94 643.37L274.60 604.84M235.94 604.84L274.60 566.31M235.94 566.31L274.60 527.79M235.94 527.79L274.60 489.26M235.94 489.26L274.60 450.73M235.94 450.73L274.60 412.20M274.60 681.90L313.26 643.37M274.60 643.37L313.26 604.84M274.60 604.84L313.26 566.31M274.60 566.31L313.26 527.79M274.60 527.79L313.26 489.26M274.60 489.26L313.26 450.73M274.60 450.73L313.26 412.20M313.26 681.90L351.92 643.37M313.26 643.37L351.92 604.84M313.26 604.84L351.92 566.31M313.26 566.31L351.92 527.79M313.26 527.79L351.92 489.26M313.26 489.26L351.92 450.73M313.26 450.73L351.92 412.20" stroke="#fff" stroke-opacity="0.035" stroke-width="0.8" fill="none"/></g>
<g clip-path="url(#cd)"><rect x="399" y="401" width="290" height="290" fill="#F6CC83"/>
<path d="M405.00 520.60C405.83 520.67 403.33 520.60 410.00 521.00C416.67 521.40 432.50 522.33 445.00 523.00C457.50 523.67 475.00 524.83 485.00 525.00C495.00 525.17 498.33 524.73 505.00 524.00C511.67 523.27 519.83 521.57 525.00 520.60C530.17 519.63 533.17 518.77 536.00 518.20C538.83 517.63 540.00 517.42 542.00 517.20C544.00 516.98 546.00 516.85 548.00 516.90C550.00 516.95 550.67 516.92 554.00 517.50C557.33 518.08 563.33 519.48 568.00 520.40C572.67 521.32 576.33 522.80 582.00 523.00C587.67 523.20 595.33 522.17 602.00 521.60C608.67 521.03 613.67 519.87 622.00 519.60C630.33 519.33 643.67 519.53 652.00 520.00C660.33 520.47 667.33 521.83 672.00 522.40C676.67 522.97 677.67 523.13 680.00 523.40C682.33 523.67 685.00 523.90 686.00 524.00L686.00 686.90 L405.00 686.90 Z" fill="#F0BB6B"/>
<path d="M405.00 539.20C405.83 539.27 403.33 539.20 410.00 539.60C416.67 540.00 432.50 541.37 445.00 541.60C457.50 541.83 473.33 541.43 485.00 541.00C496.67 540.57 507.50 539.60 515.00 539.00C522.50 538.40 525.50 537.90 530.00 537.40C534.50 536.90 538.33 536.27 542.00 536.00C545.67 535.73 548.67 535.73 552.00 535.80C555.33 535.87 557.83 536.07 562.00 536.40C566.17 536.73 572.00 537.37 577.00 537.80C582.00 538.23 587.00 538.87 592.00 539.00C597.00 539.13 602.00 538.77 607.00 538.60C612.00 538.43 617.00 537.97 622.00 538.00C627.00 538.03 632.00 538.47 637.00 538.80C642.00 539.13 647.00 539.53 652.00 540.00C657.00 540.47 662.33 541.10 667.00 541.60C671.67 542.10 676.83 542.68 680.00 543.00C683.17 543.32 685.00 543.42 686.00 543.50L686.00 686.90 L405.00 686.90 Z" fill="#E7A855"/>
<path d="M404.90 556.60C405.73 556.67 404.90 556.67 409.90 557.00C414.90 557.33 425.73 558.33 434.90 558.60C444.07 558.87 453.23 559.03 464.90 558.60C476.57 558.17 492.07 556.85 504.90 556.00C517.73 555.15 530.73 553.93 541.90 553.50C553.07 553.07 561.90 553.48 571.90 553.40C581.90 553.32 591.90 552.57 601.90 553.00C611.90 553.43 621.90 555.00 631.90 556.00C641.90 557.00 653.73 558.30 661.90 559.00C670.07 559.70 676.90 559.95 680.90 560.20C684.90 560.45 685.07 560.45 685.90 560.50L685.90 686.90 L404.90 686.90 Z" fill="#DB9B52"/>
<path d="M404.90 572.60C405.73 572.67 404.90 572.67 409.90 573.00C414.90 573.33 425.73 574.37 434.90 574.60C444.07 574.83 453.23 574.90 464.90 574.40C476.57 573.90 492.07 572.50 504.90 571.60C517.73 570.70 530.73 569.53 541.90 569.00C553.07 568.47 561.90 568.57 571.90 568.40C581.90 568.23 591.90 567.47 601.90 568.00C611.90 568.53 621.90 570.43 631.90 571.60C641.90 572.77 653.73 574.23 661.90 575.00C670.07 575.77 676.90 575.95 680.90 576.20C684.90 576.45 685.07 576.45 685.90 576.50L685.90 686.90 L404.90 686.90 Z" fill="#AF8E6E"/>
<path d="M404.90 589.20C405.73 589.27 404.90 589.27 409.90 589.60C414.90 589.93 425.73 590.97 434.90 591.20C444.07 591.43 453.23 591.53 464.90 591.00C476.57 590.47 492.07 588.90 504.90 588.00C517.73 587.10 530.73 586.07 541.90 585.60C553.07 585.13 561.90 585.20 571.90 585.20C581.90 585.20 591.90 584.97 601.90 585.60C611.90 586.23 621.90 588.00 631.90 589.00C641.90 590.00 653.73 591.00 661.90 591.60C670.07 592.20 676.90 592.40 680.90 592.60C684.90 592.80 685.07 592.77 685.90 592.80L685.90 686.90 L404.90 686.90 Z" fill="#877C82"/>
<path d="M404.90 607.60C405.73 607.67 404.23 607.60 409.90 608.00C415.57 608.40 429.73 609.83 438.90 610.00C448.07 610.17 453.90 609.57 464.90 609.00C475.90 608.43 492.07 607.27 504.90 606.60C517.73 605.93 530.73 605.43 541.90 605.00C553.07 604.57 561.90 604.10 571.90 604.00C581.90 603.90 591.90 603.80 601.90 604.40C611.90 605.00 621.90 606.73 631.90 607.60C641.90 608.47 653.73 609.10 661.90 609.60C670.07 610.10 676.90 610.40 680.90 610.60C684.90 610.80 685.07 610.77 685.90 610.80L685.90 686.90 L404.90 686.90 Z" fill="#5E709F"/>
<path d="M404.90 630.80C405.73 630.83 404.90 630.80 409.90 631.00C414.90 631.20 425.73 631.90 434.90 632.00C444.07 632.10 453.23 631.93 464.90 631.60C476.57 631.27 492.07 630.38 504.90 630.00C517.73 629.62 530.73 629.53 541.90 629.30C553.07 629.07 561.90 628.65 571.90 628.60C581.90 628.55 591.90 628.67 601.90 629.00C611.90 629.33 621.90 630.10 631.90 630.60C641.90 631.10 653.73 631.68 661.90 632.00C670.07 632.32 676.90 632.40 680.90 632.50C684.90 632.60 685.07 632.58 685.90 632.60L685.90 686.90 L404.90 686.90 Z" fill="#26548B"/>
<path d="M505.00 407.00C504.50 407.87 504.00 409.03 502.00 412.20C500.00 415.37 496.50 420.70 493.00 426.00C489.50 431.30 485.67 438.33 481.00 444.00C476.33 449.67 470.50 455.60 465.00 460.00C459.50 464.40 452.67 467.70 448.00 470.40C443.33 473.10 439.90 474.67 437.00 476.20C434.10 477.73 431.67 479.03 430.60 479.60C430.87 480.27 431.30 482.37 432.20 483.60C433.10 484.83 433.87 485.67 436.00 487.00C438.13 488.33 440.17 489.60 445.00 491.60C449.83 493.60 458.33 496.77 465.00 499.00C471.67 501.23 478.33 503.50 485.00 505.00C491.67 506.50 499.33 507.93 505.00 508.00C510.67 508.07 514.67 507.07 519.00 505.40C523.33 503.73 527.67 500.65 531.00 498.00C534.33 495.35 537.00 491.90 539.00 489.50C541.00 487.10 542.00 485.08 543.00 483.60C544.00 482.12 544.67 481.10 545.00 480.60C545.50 480.75 547.05 481.12 548.00 481.50C548.95 481.88 549.80 482.15 550.70 482.90C551.60 483.65 551.85 484.07 553.40 486.00C554.95 487.93 556.90 491.83 560.00 494.50C563.10 497.17 567.67 500.22 572.00 502.00C576.33 503.78 581.00 505.03 586.00 505.20C591.00 505.37 596.00 504.53 602.00 503.00C608.00 501.47 615.33 498.50 622.00 496.00C628.67 493.50 637.00 489.93 642.00 488.00C647.00 486.07 649.73 485.23 652.00 484.40C654.27 483.57 655.00 483.23 655.60 483.00C655.93 482.47 657.27 480.33 657.60 479.80C656.67 479.30 654.35 478.00 652.00 476.80C649.65 475.60 647.43 475.25 643.50 472.60C639.57 469.95 633.27 465.58 628.40 460.90C623.53 456.22 618.20 450.05 614.30 444.50C610.40 438.95 607.72 432.02 605.00 427.60C602.28 423.18 599.83 420.57 598.00 418.00C596.17 415.43 595.17 414.03 594.00 412.20C592.83 410.37 591.50 407.87 591.00 407.00Z" fill="#FCDC98"/>
<path d="M514.50 407.00C514.92 407.87 515.42 408.47 517.00 412.20C518.58 415.93 521.27 423.23 524.00 429.40C526.73 435.57 530.48 442.98 533.40 449.20C536.32 455.42 539.50 462.53 541.50 466.70C543.50 470.87 544.42 472.53 545.40 474.20C546.38 475.87 546.83 476.37 547.40 476.70C547.97 477.03 548.37 476.65 548.80 476.20C549.23 475.75 549.27 475.58 550.00 474.00C550.73 472.42 551.30 470.83 553.20 466.70C555.10 462.57 558.48 455.42 561.40 449.20C564.32 442.98 567.78 435.57 570.70 429.40C573.62 423.23 577.18 415.85 578.90 412.20C580.62 408.55 580.65 408.28 581.00 407.50L581.00 412.20 L514.50 412.20Z" fill="#F6CC83"/>
<path d="M522.00 407.00C522.50 407.87 523.30 409.03 525.00 412.20C526.70 415.37 529.83 421.78 532.20 426.00C534.57 430.22 537.15 434.60 539.20 437.50C541.25 440.40 542.93 442.10 544.50 443.40C546.07 444.70 547.12 445.37 548.60 445.30C550.08 445.23 551.67 444.55 553.40 443.00C555.13 441.45 556.90 439.25 559.00 436.00C561.10 432.75 563.87 427.47 566.00 423.50C568.13 419.53 570.47 414.78 571.80 412.20C573.13 409.62 573.63 408.70 574.00 408.00L574.00 412.20 L522.00 412.20Z" fill="#F0BB6B"/>
<path d="M526.50 407.50C526.98 408.28 527.87 409.78 529.40 412.20C530.93 414.62 533.68 419.27 535.70 422.00C537.72 424.73 539.32 426.88 541.50 428.60C543.68 430.32 546.55 432.23 548.80 432.30C551.05 432.37 552.97 430.78 555.00 429.00C557.03 427.22 559.07 424.40 561.00 421.60C562.93 418.80 565.18 414.55 566.60 412.20C568.02 409.85 569.02 408.28 569.50 407.50L569.50 412.20 L526.50 412.20Z" fill="#E7A855"/>
<path d="M531.00 408.00C531.52 408.70 532.73 410.43 534.10 412.20C535.47 413.97 537.52 416.90 539.20 418.60C540.88 420.30 542.67 421.58 544.20 422.40C545.73 423.22 546.93 423.57 548.40 423.50C549.87 423.43 551.47 422.95 553.00 422.00C554.53 421.05 556.18 419.43 557.60 417.80C559.02 416.17 560.43 413.75 561.50 412.20C562.57 410.65 563.58 409.12 564.00 408.50L564.00 412.20 L531.00 412.20Z" fill="#DB9B52"/>
<path d="M536.00 409.50C536.67 409.95 538.67 411.40 540.00 412.20C541.33 413.00 542.73 413.87 544.00 414.30C545.27 414.73 546.33 414.82 547.60 414.80C548.87 414.78 550.25 414.63 551.60 414.20C552.95 413.77 554.47 412.90 555.70 412.20C556.93 411.50 558.45 410.37 559.00 410.00L559.00 412.20 L536.00 412.20Z" fill="#AF8E6E"/>
<path d="M405.00 446.40C405.83 446.55 407.57 446.80 410.00 447.30C412.43 447.80 416.43 448.98 419.60 449.40C422.77 449.82 425.35 449.97 429.00 449.80C432.65 449.63 437.17 449.37 441.50 448.40C445.83 447.43 450.87 445.73 455.00 444.00C459.13 442.27 462.80 440.25 466.30 438.00C469.80 435.75 472.88 433.25 476.00 430.50C479.12 427.75 482.20 424.55 485.00 421.50C487.80 418.45 490.80 414.53 492.80 412.20C494.80 409.87 496.30 408.28 497.00 407.50L399.00 401.00Z" fill="#F0BB6B"/>
<path d="M405.00 434.40C405.83 434.53 407.57 434.77 410.00 435.20C412.43 435.63 416.43 436.63 419.60 437.00C422.77 437.37 425.35 437.62 429.00 437.40C432.65 437.18 437.17 436.55 441.50 435.70C445.83 434.85 450.87 433.85 455.00 432.30C459.13 430.75 462.47 428.72 466.30 426.40C470.13 424.08 474.95 420.77 478.00 418.40C481.05 416.03 482.77 414.02 484.60 412.20C486.43 410.38 488.27 408.28 489.00 407.50L399.00 401.00Z" fill="#E7A855"/>
<path d="M405.00 424.80C405.83 424.92 407.57 425.05 410.00 425.50C412.43 425.95 416.43 427.08 419.60 427.50C422.77 427.92 425.35 428.22 429.00 428.00C432.65 427.78 437.17 427.00 441.50 426.20C445.83 425.40 450.87 424.50 455.00 423.20C459.13 421.90 462.72 420.23 466.30 418.40C469.88 416.57 473.88 413.93 476.50 412.20C479.12 410.47 481.08 408.70 482.00 408.00L399.00 401.00Z" fill="#DB9B52"/>
<path d="M405.00 417.20C405.83 417.33 407.57 417.55 410.00 418.00C412.43 418.45 416.43 419.50 419.60 419.90C422.77 420.30 425.35 420.62 429.00 420.40C432.65 420.18 437.17 419.42 441.50 418.60C445.83 417.78 451.35 416.57 455.00 415.50C458.65 414.43 460.90 413.28 463.40 412.20C465.90 411.12 468.90 409.53 470.00 409.00L399.00 401.00Z" fill="#AF8E6E"/>
<path d="M408.00 410.50C408.47 410.78 408.97 411.73 410.80 412.20C412.63 412.67 416.30 413.03 419.00 413.30C421.70 413.57 424.17 413.80 427.00 413.80C429.83 413.80 433.10 413.57 436.00 413.30C438.90 413.03 442.40 412.67 444.40 412.20C446.40 411.73 447.40 410.78 448.00 410.50L448.00 412.20 L408.00 412.20Z" fill="#877C82"/>
<path d="M686.00 448.60C684.98 448.73 682.32 449.13 679.90 449.40C677.48 449.67 674.12 450.13 671.50 450.20C668.88 450.27 666.63 450.05 664.20 449.80C661.77 449.55 659.33 449.25 656.90 448.70C654.47 448.15 652.03 447.28 649.60 446.50C647.17 445.72 644.73 444.92 642.30 444.00C639.87 443.08 637.05 442.07 635.00 441.00C632.95 439.93 632.00 439.10 630.00 437.60C628.00 436.10 625.22 433.85 623.00 432.00C620.78 430.15 618.70 428.33 616.70 426.50C614.70 424.67 612.95 422.92 611.00 421.00C609.05 419.08 606.42 416.47 605.00 415.00C603.58 413.53 603.67 413.53 602.50 412.20C601.33 410.87 598.75 407.87 598.00 407.00L690.00 401.00Z" fill="#F0BB6B"/>
<path d="M686.00 436.00C684.98 436.12 682.32 436.45 679.90 436.70C677.48 436.95 674.12 437.38 671.50 437.50C668.88 437.62 666.63 437.60 664.20 437.40C661.77 437.20 659.33 436.78 656.90 436.30C654.47 435.82 652.03 435.23 649.60 434.50C647.17 433.77 644.73 432.75 642.30 431.90C639.87 431.05 637.22 430.45 635.00 429.40C632.78 428.35 631.08 427.03 629.00 425.60C626.92 424.17 624.50 422.30 622.50 420.80C620.50 419.30 618.85 418.03 617.00 416.60C615.15 415.17 613.23 413.72 611.40 412.20C609.57 410.68 606.90 408.28 606.00 407.50L690.00 401.00Z" fill="#E7A855"/>
<path d="M686.00 426.90C684.98 427.00 682.32 427.30 679.90 427.50C677.48 427.70 674.12 428.03 671.50 428.10C668.88 428.17 666.63 428.12 664.20 427.90C661.77 427.68 659.33 427.28 656.90 426.80C654.47 426.32 652.03 425.70 649.60 425.00C647.17 424.30 644.73 423.40 642.30 422.60C639.87 421.80 637.38 421.23 635.00 420.20C632.62 419.17 630.37 417.73 628.00 416.40C625.63 415.07 623.30 413.60 620.80 412.20C618.30 410.80 614.30 408.70 613.00 408.00L690.00 401.00Z" fill="#DB9B52"/>
<path d="M686.00 419.40C684.98 419.48 682.32 419.73 679.90 419.90C677.48 420.07 674.12 420.40 671.50 420.40C668.88 420.40 666.63 420.13 664.20 419.90C661.77 419.67 659.33 419.43 656.90 419.00C654.47 418.57 652.03 417.95 649.60 417.30C647.17 416.65 645.07 415.95 642.30 415.10C639.53 414.25 635.88 413.30 633.00 412.20C630.12 411.10 626.33 409.12 625.00 408.50L690.00 401.00Z" fill="#AF8E6E"/>
<path d="M686.00 413.30C684.98 413.35 682.90 413.52 679.90 413.60C676.90 413.68 671.32 413.85 668.00 413.80C664.68 413.75 662.47 413.57 660.00 413.30C657.53 413.03 655.20 412.75 653.20 412.20C651.20 411.65 648.87 410.37 648.00 410.00L690.00 401.00Z" fill="#877C82"/>
<path d="M509.00 423.60C507.57 424.32 505.67 426.43 504.00 428.50C502.33 430.57 500.50 433.42 499.00 436.00C497.50 438.58 496.17 441.33 495.00 444.00C493.83 446.67 492.77 449.42 492.00 452.00C491.23 454.58 490.73 457.17 490.40 459.50C490.07 461.83 489.87 464.00 490.00 466.00C490.13 468.00 490.53 469.77 491.20 471.50C491.87 473.23 492.95 474.92 494.00 476.40C495.05 477.88 496.33 479.30 497.50 480.40C498.67 481.50 499.75 482.30 501.00 483.00C502.25 483.70 503.67 484.27 505.00 484.60C506.33 484.93 507.67 485.03 509.00 485.00C510.33 484.97 511.67 484.90 513.00 484.40C514.33 483.90 515.77 483.00 517.00 482.00C518.23 481.00 519.40 479.73 520.40 478.40C521.40 477.07 522.27 475.73 523.00 474.00C523.73 472.27 524.37 470.00 524.80 468.00C525.23 466.00 525.48 464.17 525.60 462.00C525.72 459.83 525.67 457.33 525.50 455.00C525.33 452.67 524.98 450.17 524.60 448.00C524.22 445.83 523.80 444.00 523.20 442.00C522.60 440.00 521.77 437.83 521.00 436.00C520.23 434.17 519.43 432.50 518.60 431.00C517.77 429.50 517.00 428.13 516.00 427.00C515.00 425.87 513.77 424.77 512.60 424.20C511.43 423.63 510.43 422.88 509.00 423.60Z" fill="#FFF1BF"/>
<path d="M585.00 424.00C583.60 424.65 582.33 426.50 581.00 428.50C579.67 430.50 578.17 433.42 577.00 436.00C575.83 438.58 574.83 441.33 574.00 444.00C573.17 446.67 572.43 449.58 572.00 452.00C571.57 454.42 571.47 456.50 571.40 458.50C571.33 460.50 571.37 462.17 571.60 464.00C571.83 465.83 572.23 467.83 572.80 469.50C573.37 471.17 574.10 472.58 575.00 474.00C575.90 475.42 577.03 476.83 578.20 478.00C579.37 479.17 580.70 480.30 582.00 481.00C583.30 481.70 584.67 482.07 586.00 482.20C587.33 482.33 588.60 482.23 590.00 481.80C591.40 481.37 593.07 480.57 594.40 479.60C595.73 478.63 596.90 477.37 598.00 476.00C599.10 474.63 600.17 473.07 601.00 471.40C601.83 469.73 602.52 467.90 603.00 466.00C603.48 464.10 603.80 462.00 603.90 460.00C604.00 458.00 603.82 456.00 603.60 454.00C603.38 452.00 603.03 450.00 602.60 448.00C602.17 446.00 601.63 443.93 601.00 442.00C600.37 440.07 599.63 438.23 598.80 436.40C597.97 434.57 596.97 432.50 596.00 431.00C595.03 429.50 594.10 428.47 593.00 427.40C591.90 426.33 590.73 425.17 589.40 424.60C588.07 424.03 586.40 423.35 585.00 424.00Z" fill="#FFF1BF"/>
<path d="M505.00 407.00C504.50 407.87 504.00 409.03 502.00 412.20C500.00 415.37 496.50 420.70 493.00 426.00C489.50 431.30 485.67 438.33 481.00 444.00C476.33 449.67 470.50 455.60 465.00 460.00C459.50 464.40 452.67 467.70 448.00 470.40C443.33 473.10 439.90 474.67 437.00 476.20C434.10 477.73 431.67 479.03 430.60 479.60C430.87 480.27 431.30 482.37 432.20 483.60C433.10 484.83 433.87 485.67 436.00 487.00C438.13 488.33 440.17 489.60 445.00 491.60C449.83 493.60 458.33 496.77 465.00 499.00C471.67 501.23 478.33 503.50 485.00 505.00C491.67 506.50 499.33 507.93 505.00 508.00C510.67 508.07 514.67 507.07 519.00 505.40C523.33 503.73 527.67 500.65 531.00 498.00C534.33 495.35 537.00 491.90 539.00 489.50C541.00 487.10 542.00 485.08 543.00 483.60C544.00 482.12 544.67 481.10 545.00 480.60C545.50 480.75 547.05 481.12 548.00 481.50C548.95 481.88 549.80 482.15 550.70 482.90C551.60 483.65 551.85 484.07 553.40 486.00C554.95 487.93 556.90 491.83 560.00 494.50C563.10 497.17 567.67 500.22 572.00 502.00C576.33 503.78 581.00 505.03 586.00 505.20C591.00 505.37 596.00 504.53 602.00 503.00C608.00 501.47 615.33 498.50 622.00 496.00C628.67 493.50 637.00 489.93 642.00 488.00C647.00 486.07 649.73 485.23 652.00 484.40C654.27 483.57 655.00 483.23 655.60 483.00C655.93 482.47 657.27 480.33 657.60 479.80C656.67 479.30 654.35 478.00 652.00 476.80C649.65 475.60 647.43 475.25 643.50 472.60C639.57 469.95 633.27 465.58 628.40 460.90C623.53 456.22 618.20 450.05 614.30 444.50C610.40 438.95 607.72 432.02 605.00 427.60C602.28 423.18 599.83 420.57 598.00 418.00C596.17 415.43 595.17 414.03 594.00 412.20C592.83 410.37 591.50 407.87 591.00 407.00" fill="none" stroke="#2e2408" stroke-opacity="0.64" stroke-width="1.5" stroke-linejoin="round"/>
<path d="M405.00 520.60C405.83 520.67 403.33 520.60 410.00 521.00C416.67 521.40 432.50 522.33 445.00 523.00C457.50 523.67 475.00 524.83 485.00 525.00C495.00 525.17 498.33 524.73 505.00 524.00C511.67 523.27 519.83 521.57 525.00 520.60C530.17 519.63 533.17 518.77 536.00 518.20C538.83 517.63 540.00 517.42 542.00 517.20C544.00 516.98 546.00 516.85 548.00 516.90C550.00 516.95 550.67 516.92 554.00 517.50C557.33 518.08 563.33 519.48 568.00 520.40C572.67 521.32 576.33 522.80 582.00 523.00C587.67 523.20 595.33 522.17 602.00 521.60C608.67 521.03 613.67 519.87 622.00 519.60C630.33 519.33 643.67 519.53 652.00 520.00C660.33 520.47 667.33 521.83 672.00 522.40C676.67 522.97 677.67 523.13 680.00 523.40C682.33 523.67 685.00 523.90 686.00 524.00" fill="none" stroke="#2e2408" stroke-opacity="0.64" stroke-width="1.5" stroke-linejoin="round"/>
<path d="M405.00 539.20C405.83 539.27 403.33 539.20 410.00 539.60C416.67 540.00 432.50 541.37 445.00 541.60C457.50 541.83 473.33 541.43 485.00 541.00C496.67 540.57 507.50 539.60 515.00 539.00C522.50 538.40 525.50 537.90 530.00 537.40C534.50 536.90 538.33 536.27 542.00 536.00C545.67 535.73 548.67 535.73 552.00 535.80C555.33 535.87 557.83 536.07 562.00 536.40C566.17 536.73 572.00 537.37 577.00 537.80C582.00 538.23 587.00 538.87 592.00 539.00C597.00 539.13 602.00 538.77 607.00 538.60C612.00 538.43 617.00 537.97 622.00 538.00C627.00 538.03 632.00 538.47 637.00 538.80C642.00 539.13 647.00 539.53 652.00 540.00C657.00 540.47 662.33 541.10 667.00 541.60C671.67 542.10 676.83 542.68 680.00 543.00C683.17 543.32 685.00 543.42 686.00 543.50" fill="none" stroke="#2e2408" stroke-opacity="0.64" stroke-width="1.5" stroke-linejoin="round"/>
<path d="M404.90 556.60C405.73 556.67 404.90 556.67 409.90 557.00C414.90 557.33 425.73 558.33 434.90 558.60C444.07 558.87 453.23 559.03 464.90 558.60C476.57 558.17 492.07 556.85 504.90 556.00C517.73 555.15 530.73 553.93 541.90 553.50C553.07 553.07 561.90 553.48 571.90 553.40C581.90 553.32 591.90 552.57 601.90 553.00C611.90 553.43 621.90 555.00 631.90 556.00C641.90 557.00 653.73 558.30 661.90 559.00C670.07 559.70 676.90 559.95 680.90 560.20C684.90 560.45 685.07 560.45 685.90 560.50" fill="none" stroke="#2e2408" stroke-opacity="0.64" stroke-width="1.5" stroke-linejoin="round"/>
<path d="M404.90 572.60C405.73 572.67 404.90 572.67 409.90 573.00C414.90 573.33 425.73 574.37 434.90 574.60C444.07 574.83 453.23 574.90 464.90 574.40C476.57 573.90 492.07 572.50 504.90 571.60C517.73 570.70 530.73 569.53 541.90 569.00C553.07 568.47 561.90 568.57 571.90 568.40C581.90 568.23 591.90 567.47 601.90 568.00C611.90 568.53 621.90 570.43 631.90 571.60C641.90 572.77 653.73 574.23 661.90 575.00C670.07 575.77 676.90 575.95 680.90 576.20C684.90 576.45 685.07 576.45 685.90 576.50" fill="none" stroke="#2e2408" stroke-opacity="0.64" stroke-width="1.5" stroke-linejoin="round"/>
<path d="M404.90 589.20C405.73 589.27 404.90 589.27 409.90 589.60C414.90 589.93 425.73 590.97 434.90 591.20C444.07 591.43 453.23 591.53 464.90 591.00C476.57 590.47 492.07 588.90 504.90 588.00C517.73 587.10 530.73 586.07 541.90 585.60C553.07 585.13 561.90 585.20 571.90 585.20C581.90 585.20 591.90 584.97 601.90 585.60C611.90 586.23 621.90 588.00 631.90 589.00C641.90 590.00 653.73 591.00 661.90 591.60C670.07 592.20 676.90 592.40 680.90 592.60C684.90 592.80 685.07 592.77 685.90 592.80" fill="none" stroke="#2e2408" stroke-opacity="0.64" stroke-width="1.5" stroke-linejoin="round"/>
<path d="M404.90 607.60C405.73 607.67 404.23 607.60 409.90 608.00C415.57 608.40 429.73 609.83 438.90 610.00C448.07 610.17 453.90 609.57 464.90 609.00C475.90 608.43 492.07 607.27 504.90 606.60C517.73 605.93 530.73 605.43 541.90 605.00C553.07 604.57 561.90 604.10 571.90 604.00C581.90 603.90 591.90 603.80 601.90 604.40C611.90 605.00 621.90 606.73 631.90 607.60C641.90 608.47 653.73 609.10 661.90 609.60C670.07 610.10 676.90 610.40 680.90 610.60C684.90 610.80 685.07 610.77 685.90 610.80" fill="none" stroke="#2e2408" stroke-opacity="0.64" stroke-width="1.5" stroke-linejoin="round"/>
<path d="M404.90 630.80C405.73 630.83 404.90 630.80 409.90 631.00C414.90 631.20 425.73 631.90 434.90 632.00C444.07 632.10 453.23 631.93 464.90 631.60C476.57 631.27 492.07 630.38 504.90 630.00C517.73 629.62 530.73 629.53 541.90 629.30C553.07 629.07 561.90 628.65 571.90 628.60C581.90 628.55 591.90 628.67 601.90 629.00C611.90 629.33 621.90 630.10 631.90 630.60C641.90 631.10 653.73 631.68 661.90 632.00C670.07 632.32 676.90 632.40 680.90 632.50C684.90 632.60 685.07 632.58 685.90 632.60" fill="none" stroke="#2e2408" stroke-opacity="0.64" stroke-width="1.5" stroke-linejoin="round"/>
<path d="M514.50 407.00C514.92 407.87 515.42 408.47 517.00 412.20C518.58 415.93 521.27 423.23 524.00 429.40C526.73 435.57 530.48 442.98 533.40 449.20C536.32 455.42 539.50 462.53 541.50 466.70C543.50 470.87 544.42 472.53 545.40 474.20C546.38 475.87 546.83 476.37 547.40 476.70C547.97 477.03 548.37 476.65 548.80 476.20C549.23 475.75 549.27 475.58 550.00 474.00C550.73 472.42 551.30 470.83 553.20 466.70C555.10 462.57 558.48 455.42 561.40 449.20C564.32 442.98 567.78 435.57 570.70 429.40C573.62 423.23 577.18 415.85 578.90 412.20C580.62 408.55 580.65 408.28 581.00 407.50" fill="none" stroke="#2e2408" stroke-opacity="0.64" stroke-width="1.5" stroke-linejoin="round"/>
<path d="M522.00 407.00C522.50 407.87 523.30 409.03 525.00 412.20C526.70 415.37 529.83 421.78 532.20 426.00C534.57 430.22 537.15 434.60 539.20 437.50C541.25 440.40 542.93 442.10 544.50 443.40C546.07 444.70 547.12 445.37 548.60 445.30C550.08 445.23 551.67 444.55 553.40 443.00C555.13 441.45 556.90 439.25 559.00 436.00C561.10 432.75 563.87 427.47 566.00 423.50C568.13 419.53 570.47 414.78 571.80 412.20C573.13 409.62 573.63 408.70 574.00 408.00" fill="none" stroke="#2e2408" stroke-opacity="0.64" stroke-width="1.5" stroke-linejoin="round"/>
<path d="M526.50 407.50C526.98 408.28 527.87 409.78 529.40 412.20C530.93 414.62 533.68 419.27 535.70 422.00C537.72 424.73 539.32 426.88 541.50 428.60C543.68 430.32 546.55 432.23 548.80 432.30C551.05 432.37 552.97 430.78 555.00 429.00C557.03 427.22 559.07 424.40 561.00 421.60C562.93 418.80 565.18 414.55 566.60 412.20C568.02 409.85 569.02 408.28 569.50 407.50" fill="none" stroke="#2e2408" stroke-opacity="0.64" stroke-width="1.5" stroke-linejoin="round"/>
<path d="M531.00 408.00C531.52 408.70 532.73 410.43 534.10 412.20C535.47 413.97 537.52 416.90 539.20 418.60C540.88 420.30 542.67 421.58 544.20 422.40C545.73 423.22 546.93 423.57 548.40 423.50C549.87 423.43 551.47 422.95 553.00 422.00C554.53 421.05 556.18 419.43 557.60 417.80C559.02 416.17 560.43 413.75 561.50 412.20C562.57 410.65 563.58 409.12 564.00 408.50" fill="none" stroke="#2e2408" stroke-opacity="0.64" stroke-width="1.5" stroke-linejoin="round"/>
<path d="M536.00 409.50C536.67 409.95 538.67 411.40 540.00 412.20C541.33 413.00 542.73 413.87 544.00 414.30C545.27 414.73 546.33 414.82 547.60 414.80C548.87 414.78 550.25 414.63 551.60 414.20C552.95 413.77 554.47 412.90 555.70 412.20C556.93 411.50 558.45 410.37 559.00 410.00" fill="none" stroke="#2e2408" stroke-opacity="0.64" stroke-width="1.5" stroke-linejoin="round"/>
<path d="M405.00 446.40C405.83 446.55 407.57 446.80 410.00 447.30C412.43 447.80 416.43 448.98 419.60 449.40C422.77 449.82 425.35 449.97 429.00 449.80C432.65 449.63 437.17 449.37 441.50 448.40C445.83 447.43 450.87 445.73 455.00 444.00C459.13 442.27 462.80 440.25 466.30 438.00C469.80 435.75 472.88 433.25 476.00 430.50C479.12 427.75 482.20 424.55 485.00 421.50C487.80 418.45 490.80 414.53 492.80 412.20C494.80 409.87 496.30 408.28 497.00 407.50" fill="none" stroke="#2e2408" stroke-opacity="0.64" stroke-width="1.5" stroke-linejoin="round"/>
<path d="M405.00 434.40C405.83 434.53 407.57 434.77 410.00 435.20C412.43 435.63 416.43 436.63 419.60 437.00C422.77 437.37 425.35 437.62 429.00 437.40C432.65 437.18 437.17 436.55 441.50 435.70C445.83 434.85 450.87 433.85 455.00 432.30C459.13 430.75 462.47 428.72 466.30 426.40C470.13 424.08 474.95 420.77 478.00 418.40C481.05 416.03 482.77 414.02 484.60 412.20C486.43 410.38 488.27 408.28 489.00 407.50" fill="none" stroke="#2e2408" stroke-opacity="0.64" stroke-width="1.5" stroke-linejoin="round"/>
<path d="M405.00 424.80C405.83 424.92 407.57 425.05 410.00 425.50C412.43 425.95 416.43 427.08 419.60 427.50C422.77 427.92 425.35 428.22 429.00 428.00C432.65 427.78 437.17 427.00 441.50 426.20C445.83 425.40 450.87 424.50 455.00 423.20C459.13 421.90 462.72 420.23 466.30 418.40C469.88 416.57 473.88 413.93 476.50 412.20C479.12 410.47 481.08 408.70 482.00 408.00" fill="none" stroke="#2e2408" stroke-opacity="0.64" stroke-width="1.5" stroke-linejoin="round"/>
<path d="M405.00 417.20C405.83 417.33 407.57 417.55 410.00 418.00C412.43 418.45 416.43 419.50 419.60 419.90C422.77 420.30 425.35 420.62 429.00 420.40C432.65 420.18 437.17 419.42 441.50 418.60C445.83 417.78 451.35 416.57 455.00 415.50C458.65 414.43 460.90 413.28 463.40 412.20C465.90 411.12 468.90 409.53 470.00 409.00" fill="none" stroke="#2e2408" stroke-opacity="0.64" stroke-width="1.5" stroke-linejoin="round"/>
<path d="M408.00 410.50C408.47 410.78 408.97 411.73 410.80 412.20C412.63 412.67 416.30 413.03 419.00 413.30C421.70 413.57 424.17 413.80 427.00 413.80C429.83 413.80 433.10 413.57 436.00 413.30C438.90 413.03 442.40 412.67 444.40 412.20C446.40 411.73 447.40 410.78 448.00 410.50" fill="none" stroke="#2e2408" stroke-opacity="0.64" stroke-width="1.5" stroke-linejoin="round"/>
<path d="M598.00 407.00C598.75 407.87 601.33 410.87 602.50 412.20C603.67 413.53 603.58 413.53 605.00 415.00C606.42 416.47 609.05 419.08 611.00 421.00C612.95 422.92 614.70 424.67 616.70 426.50C618.70 428.33 620.78 430.15 623.00 432.00C625.22 433.85 628.00 436.10 630.00 437.60C632.00 439.10 632.95 439.93 635.00 441.00C637.05 442.07 639.87 443.08 642.30 444.00C644.73 444.92 647.17 445.72 649.60 446.50C652.03 447.28 654.47 448.15 656.90 448.70C659.33 449.25 661.77 449.55 664.20 449.80C666.63 450.05 668.88 450.27 671.50 450.20C674.12 450.13 677.48 449.67 679.90 449.40C682.32 449.13 684.98 448.73 686.00 448.60" fill="none" stroke="#2e2408" stroke-opacity="0.64" stroke-width="1.5" stroke-linejoin="round"/>
<path d="M606.00 407.50C606.90 408.28 609.57 410.68 611.40 412.20C613.23 413.72 615.15 415.17 617.00 416.60C618.85 418.03 620.50 419.30 622.50 420.80C624.50 422.30 626.92 424.17 629.00 425.60C631.08 427.03 632.78 428.35 635.00 429.40C637.22 430.45 639.87 431.05 642.30 431.90C644.73 432.75 647.17 433.77 649.60 434.50C652.03 435.23 654.47 435.82 656.90 436.30C659.33 436.78 661.77 437.20 664.20 437.40C666.63 437.60 668.88 437.62 671.50 437.50C674.12 437.38 677.48 436.95 679.90 436.70C682.32 436.45 684.98 436.12 686.00 436.00" fill="none" stroke="#2e2408" stroke-opacity="0.64" stroke-width="1.5" stroke-linejoin="round"/>
<path d="M613.00 408.00C614.30 408.70 618.30 410.80 620.80 412.20C623.30 413.60 625.63 415.07 628.00 416.40C630.37 417.73 632.62 419.17 635.00 420.20C637.38 421.23 639.87 421.80 642.30 422.60C644.73 423.40 647.17 424.30 649.60 425.00C652.03 425.70 654.47 426.32 656.90 426.80C659.33 427.28 661.77 427.68 664.20 427.90C666.63 428.12 668.88 428.17 671.50 428.10C674.12 428.03 677.48 427.70 679.90 427.50C682.32 427.30 684.98 427.00 686.00 426.90" fill="none" stroke="#2e2408" stroke-opacity="0.64" stroke-width="1.5" stroke-linejoin="round"/>
<path d="M625.00 408.50C626.33 409.12 630.12 411.10 633.00 412.20C635.88 413.30 639.53 414.25 642.30 415.10C645.07 415.95 647.17 416.65 649.60 417.30C652.03 417.95 654.47 418.57 656.90 419.00C659.33 419.43 661.77 419.67 664.20 419.90C666.63 420.13 668.88 420.40 671.50 420.40C674.12 420.40 677.48 420.07 679.90 419.90C682.32 419.73 684.98 419.48 686.00 419.40" fill="none" stroke="#2e2408" stroke-opacity="0.64" stroke-width="1.5" stroke-linejoin="round"/>
<path d="M648.00 410.00C648.87 410.37 651.20 411.65 653.20 412.20C655.20 412.75 657.53 413.03 660.00 413.30C662.47 413.57 664.68 413.75 668.00 413.80C671.32 413.85 676.90 413.68 679.90 413.60C682.90 413.52 684.98 413.35 686.00 413.30" fill="none" stroke="#2e2408" stroke-opacity="0.64" stroke-width="1.5" stroke-linejoin="round"/>
<path d="M509.00 423.60C507.57 424.32 505.67 426.43 504.00 428.50C502.33 430.57 500.50 433.42 499.00 436.00C497.50 438.58 496.17 441.33 495.00 444.00C493.83 446.67 492.77 449.42 492.00 452.00C491.23 454.58 490.73 457.17 490.40 459.50C490.07 461.83 489.87 464.00 490.00 466.00C490.13 468.00 490.53 469.77 491.20 471.50C491.87 473.23 492.95 474.92 494.00 476.40C495.05 477.88 496.33 479.30 497.50 480.40C498.67 481.50 499.75 482.30 501.00 483.00C502.25 483.70 503.67 484.27 505.00 484.60C506.33 484.93 507.67 485.03 509.00 485.00C510.33 484.97 511.67 484.90 513.00 484.40C514.33 483.90 515.77 483.00 517.00 482.00C518.23 481.00 519.40 479.73 520.40 478.40C521.40 477.07 522.27 475.73 523.00 474.00C523.73 472.27 524.37 470.00 524.80 468.00C525.23 466.00 525.48 464.17 525.60 462.00C525.72 459.83 525.67 457.33 525.50 455.00C525.33 452.67 524.98 450.17 524.60 448.00C524.22 445.83 523.80 444.00 523.20 442.00C522.60 440.00 521.77 437.83 521.00 436.00C520.23 434.17 519.43 432.50 518.60 431.00C517.77 429.50 517.00 428.13 516.00 427.00C515.00 425.87 513.77 424.77 512.60 424.20C511.43 423.63 510.43 422.88 509.00 423.60Z" fill="none" stroke="#2e2408" stroke-opacity="0.64" stroke-width="1.5" stroke-linejoin="round"/>
<path d="M585.00 424.00C583.60 424.65 582.33 426.50 581.00 428.50C579.67 430.50 578.17 433.42 577.00 436.00C575.83 438.58 574.83 441.33 574.00 444.00C573.17 446.67 572.43 449.58 572.00 452.00C571.57 454.42 571.47 456.50 571.40 458.50C571.33 460.50 571.37 462.17 571.60 464.00C571.83 465.83 572.23 467.83 572.80 469.50C573.37 471.17 574.10 472.58 575.00 474.00C575.90 475.42 577.03 476.83 578.20 478.00C579.37 479.17 580.70 480.30 582.00 481.00C583.30 481.70 584.67 482.07 586.00 482.20C587.33 482.33 588.60 482.23 590.00 481.80C591.40 481.37 593.07 480.57 594.40 479.60C595.73 478.63 596.90 477.37 598.00 476.00C599.10 474.63 600.17 473.07 601.00 471.40C601.83 469.73 602.52 467.90 603.00 466.00C603.48 464.10 603.80 462.00 603.90 460.00C604.00 458.00 603.82 456.00 603.60 454.00C603.38 452.00 603.03 450.00 602.60 448.00C602.17 446.00 601.63 443.93 601.00 442.00C600.37 440.07 599.63 438.23 598.80 436.40C597.97 434.57 596.97 432.50 596.00 431.00C595.03 429.50 594.10 428.47 593.00 427.40C591.90 426.33 590.73 425.17 589.40 424.60C588.07 424.03 586.40 423.35 585.00 424.00Z" fill="none" stroke="#2e2408" stroke-opacity="0.64" stroke-width="1.5" stroke-linejoin="round"/><path d="M430.15 412.20V681.90M468.70 412.20V681.90M507.25 412.20V681.90M545.80 412.20V681.90M584.35 412.20V681.90M622.90 412.20V681.90M661.45 412.20V681.90M410.10 643.37H679.95M410.10 604.84H679.95M410.10 566.31H679.95M410.10 527.79H679.95M410.10 489.26H679.95M410.10 450.73H679.95" stroke="#fff" stroke-opacity="0.06" stroke-width="0.8" fill="none"/><path d="M391.60 681.90L430.15 643.37M391.60 643.37L430.15 604.84M391.60 604.84L430.15 566.31M391.60 566.31L430.15 527.79M391.60 527.79L430.15 489.26M391.60 489.26L430.15 450.73M391.60 450.73L430.15 412.20M430.15 681.90L468.70 643.37M430.15 643.37L468.70 604.84M430.15 604.84L468.70 566.31M430.15 566.31L468.70 527.79M430.15 527.79L468.70 489.26M430.15 489.26L468.70 450.73M430.15 450.73L468.70 412.20M468.70 681.90L507.25 643.37M468.70 643.37L507.25 604.84M468.70 604.84L507.25 566.31M468.70 566.31L507.25 527.79M468.70 527.79L507.25 489.26M468.70 489.26L507.25 450.73M468.70 450.73L507.25 412.20M507.25 681.90L545.80 643.37M507.25 643.37L545.80 604.84M507.25 604.84L545.80 566.31M507.25 566.31L545.80 527.79M507.25 527.79L545.80 489.26M507.25 489.26L545.80 450.73M507.25 450.73L545.80 412.20M545.80 681.90L584.35 643.37M545.80 643.37L584.35 604.84M545.80 604.84L584.35 566.31M545.80 566.31L584.35 527.79M545.80 527.79L584.35 489.26M545.80 489.26L584.35 450.73M545.80 450.73L584.35 412.20M584.35 681.90L622.90 643.37M584.35 643.37L622.90 604.84M584.35 604.84L622.90 566.31M584.35 566.31L622.90 527.79M584.35 527.79L622.90 489.26M584.35 489.26L622.90 450.73M584.35 450.73L622.90 412.20M622.90 681.90L661.45 643.37M622.90 643.37L661.45 604.84M622.90 604.84L661.45 566.31M622.90 566.31L661.45 527.79M622.90 527.79L661.45 489.26M622.90 489.26L661.45 450.73M622.90 450.73L661.45 412.20M661.45 681.90L700.00 643.37M661.45 643.37L700.00 604.84M661.45 604.84L700.00 566.31M661.45 566.31L700.00 527.79M661.45 527.79L700.00 489.26M661.45 489.26L700.00 450.73M661.45 450.73L700.00 412.20" stroke="#fff" stroke-opacity="0.035" stroke-width="0.8" fill="none"/></g>
<g id="txt" opacity="0.999">
<rect x="56.10" y="0.50" width="281.40" height="281.10" stroke="#bcbcbc" stroke-width="1.25" fill="none"/>
<path d="M61.20 281.60v-4.00M61.20 0.50v4.00M68.93 281.60v-2.40M68.93 0.50v2.40M76.66 281.60v-2.40M76.66 0.50v2.40M84.40 281.60v-2.40M84.40 0.50v2.40M92.13 281.60v-2.40M92.13 0.50v2.40M99.86 281.60v-4.00M99.86 0.50v4.00M107.59 281.60v-2.40M107.59 0.50v2.40M115.32 281.60v-2.40M115.32 0.50v2.40M123.06 281.60v-2.40M123.06 0.50v2.40M130.79 281.60v-2.40M130.79 0.50v2.40M138.52 281.60v-4.00M138.52 0.50v4.00M146.25 281.60v-2.40M146.25 0.50v2.40M153.98 281.60v-2.40M153.98 0.50v2.40M161.72 281.60v-2.40M161.72 0.50v2.40M169.45 281.60v-2.40M169.45 0.50v2.40M177.18 281.60v-4.00M177.18 0.50v4.00M184.91 281.60v-2.40M184.91 0.50v2.40M192.64 281.60v-2.40M192.64 0.50v2.40M200.38 281.60v-2.40M200.38 0.50v2.40M208.11 281.60v-2.40M208.11 0.50v2.40M215.84 281.60v-4.00M215.84 0.50v4.00M223.57 281.60v-2.40M223.57 0.50v2.40M231.30 281.60v-2.40M231.30 0.50v2.40M239.04 281.60v-2.40M239.04 0.50v2.40M246.77 281.60v-2.40M246.77 0.50v2.40M254.50 281.60v-4.00M254.50 0.50v4.00M262.23 281.60v-2.40M262.23 0.50v2.40M269.96 281.60v-2.40M269.96 0.50v2.40M277.70 281.60v-2.40M277.70 0.50v2.40M285.43 281.60v-2.40M285.43 0.50v2.40M293.16 281.60v-4.00M293.16 0.50v4.00M300.89 281.60v-2.40M300.89 0.50v2.40M308.62 281.60v-2.40M308.62 0.50v2.40M316.36 281.60v-2.40M316.36 0.50v2.40M324.09 281.60v-2.40M324.09 0.50v2.40M331.82 281.60v-4.00M331.82 0.50v4.00M56.10 276.10h4.00M337.50 276.10h-4.00M56.10 261.74h2.40M337.50 261.74h-2.40M56.10 247.38h2.40M337.50 247.38h-2.40M56.10 233.02h2.40M337.50 233.02h-2.40M56.10 218.66h4.00M337.50 218.66h-4.00M56.10 204.30h2.40M337.50 204.30h-2.40M56.10 189.94h2.40M337.50 189.94h-2.40M56.10 175.58h2.40M337.50 175.58h-2.40M56.10 161.22h4.00M337.50 161.22h-4.00M56.10 146.86h2.40M337.50 146.86h-2.40M56.10 132.50h2.40M337.50 132.50h-2.40M56.10 118.14h2.40M337.50 118.14h-2.40M56.10 103.78h4.00M337.50 103.78h-4.00M56.10 89.42h2.40M337.50 89.42h-2.40M56.10 75.06h2.40M337.50 75.06h-2.40M56.10 60.70h2.40M337.50 60.70h-2.40M56.10 46.34h4.00M337.50 46.34h-4.00M56.10 31.98h2.40M337.50 31.98h-2.40M56.10 17.62h2.40M337.50 17.62h-2.40" stroke="#6a6a6a" stroke-width="0.9" fill="none"/>
<text x="61.20" y="302.80" text-anchor="middle" class="tl">- 2</text>
<text x="99.86" y="302.80" text-anchor="middle" class="tl">- 1</text>
<text x="138.52" y="302.80" text-anchor="middle" class="tl">0</text>
<text x="177.18" y="302.80" text-anchor="middle" class="tl">1</text>
<text x="215.84" y="302.80" text-anchor="middle" class="tl">2</text>
<text x="254.50" y="302.80" text-anchor="middle" class="tl">3</text>
<text x="293.16" y="302.80" text-anchor="middle" class="tl">4</text>
<text x="331.82" y="302.80" text-anchor="middle" class="tl">5</text>
<text x="52.70" y="282.60" text-anchor="end" class="tl">0.0</text>
<text x="52.70" y="225.16" text-anchor="end" class="tl">0.2</text>
<text x="52.70" y="167.72" text-anchor="end" class="tl">0.4</text>
<text x="52.70" y="110.28" text-anchor="end" class="tl">0.6</text>
<text x="52.70" y="52.84" text-anchor="end" class="tl">0.8</text>
<text x="196.51" y="330.50" text-anchor="middle" class="al">z</text>
<text transform="translate(16.20 141.20) rotate(-90)" text-anchor="middle" class="al">r</text>
<rect x="404.50" y="0.50" width="281.70" height="281.10" stroke="#9a9a9a" stroke-width="1.00" fill="none"/>
<path d="M410.20 281.60v-4.00M410.20 0.50v4.00M417.91 281.60v-2.40M417.91 0.50v2.40M425.62 281.60v-2.40M425.62 0.50v2.40M433.33 281.60v-2.40M433.33 0.50v2.40M441.04 281.60v-2.40M441.04 0.50v2.40M448.75 281.60v-4.00M448.75 0.50v4.00M456.46 281.60v-2.40M456.46 0.50v2.40M464.17 281.60v-2.40M464.17 0.50v2.40M471.88 281.60v-2.40M471.88 0.50v2.40M479.59 281.60v-2.40M479.59 0.50v2.40M487.30 281.60v-4.00M487.30 0.50v4.00M495.01 281.60v-2.40M495.01 0.50v2.40M502.72 281.60v-2.40M502.72 0.50v2.40M510.43 281.60v-2.40M510.43 0.50v2.40M518.14 281.60v-2.40M518.14 0.50v2.40M525.85 281.60v-4.00M525.85 0.50v4.00M533.56 281.60v-2.40M533.56 0.50v2.40M541.27 281.60v-2.40M541.27 0.50v2.40M548.98 281.60v-2.40M548.98 0.50v2.40M556.69 281.60v-2.40M556.69 0.50v2.40M564.40 281.60v-4.00M564.40 0.50v4.00M572.11 281.60v-2.40M572.11 0.50v2.40M579.82 281.60v-2.40M579.82 0.50v2.40M587.53 281.60v-2.40M587.53 0.50v2.40M595.24 281.60v-2.40M595.24 0.50v2.40M602.95 281.60v-4.00M602.95 0.50v4.00M610.66 281.60v-2.40M610.66 0.50v2.40M618.37 281.60v-2.40M618.37 0.50v2.40M626.08 281.60v-2.40M626.08 0.50v2.40M633.79 281.60v-2.40M633.79 0.50v2.40M641.50 281.60v-4.00M641.50 0.50v4.00M649.21 281.60v-2.40M649.21 0.50v2.40M656.92 281.60v-2.40M656.92 0.50v2.40M664.63 281.60v-2.40M664.63 0.50v2.40M672.34 281.60v-2.40M672.34 0.50v2.40M680.05 281.60v-4.00M680.05 0.50v4.00M404.50 276.10h4.00M686.20 276.10h-4.00M404.50 261.74h2.40M686.20 261.74h-2.40M404.50 247.38h2.40M686.20 247.38h-2.40M404.50 233.02h2.40M686.20 233.02h-2.40M404.50 218.66h4.00M686.20 218.66h-4.00M404.50 204.30h2.40M686.20 204.30h-2.40M404.50 189.94h2.40M686.20 189.94h-2.40M404.50 175.58h2.40M686.20 175.58h-2.40M404.50 161.22h4.00M686.20 161.22h-4.00M404.50 146.86h2.40M686.20 146.86h-2.40M404.50 132.50h2.40M686.20 132.50h-2.40M404.50 118.14h2.40M686.20 118.14h-2.40M404.50 103.78h4.00M686.20 103.78h-4.00M404.50 89.42h2.40M686.20 89.42h-2.40M404.50 75.06h2.40M686.20 75.06h-2.40M404.50 60.70h2.40M686.20 60.70h-2.40M404.50 46.34h4.00M686.20 46.34h-4.00M404.50 31.98h2.40M686.20 31.98h-2.40M404.50 17.62h2.40M686.20 17.62h-2.40" stroke="#6a6a6a" stroke-width="0.9" fill="none"/>
<text x="410.20" y="302.80" text-anchor="middle" class="tl">- 2</text>
<text x="448.75" y="302.80" text-anchor="middle" class="tl">- 1</text>
<text x="487.30" y="302.80" text-anchor="middle" class="tl">0</text>
<text x="525.85" y="302.80" text-anchor="middle" class="tl">1</text>
<text x="564.40" y="302.80" text-anchor="middle" class="tl">2</text>
<text x="602.95" y="302.80" text-anchor="middle" class="tl">3</text>
<text x="641.50" y="302.80" text-anchor="middle" class="tl">4</text>
<text x="680.05" y="302.80" text-anchor="middle" class="tl">5</text>
<text x="401.10" y="282.60" text-anchor="end" class="tl">0.0</text>
<text x="401.10" y="225.16" text-anchor="end" class="tl">0.2</text>
<text x="401.10" y="167.72" text-anchor="end" class="tl">0.4</text>
<text x="401.10" y="110.28" text-anchor="end" class="tl">0.6</text>
<text x="401.10" y="52.84" text-anchor="end" class="tl">0.8</text>
<text x="545.12" y="330.50" text-anchor="middle" class="al">z</text>
<text transform="translate(365.10 141.20) rotate(-90)" text-anchor="middle" class="al">r</text>
<rect x="56.10" y="407.00" width="281.40" height="280.45" stroke="#bcbcbc" stroke-width="1.25" fill="none"/>
<path d="M61.20 687.45v-4.00M61.20 407.00v4.00M68.93 687.45v-2.40M68.93 407.00v2.40M76.66 687.45v-2.40M76.66 407.00v2.40M84.40 687.45v-2.40M84.40 407.00v2.40M92.13 687.45v-2.40M92.13 407.00v2.40M99.86 687.45v-4.00M99.86 407.00v4.00M107.59 687.45v-2.40M107.59 407.00v2.40M115.32 687.45v-2.40M115.32 407.00v2.40M123.06 687.45v-2.40M123.06 407.00v2.40M130.79 687.45v-2.40M130.79 407.00v2.40M138.52 687.45v-4.00M138.52 407.00v4.00M146.25 687.45v-2.40M146.25 407.00v2.40M153.98 687.45v-2.40M153.98 407.00v2.40M161.72 687.45v-2.40M161.72 407.00v2.40M169.45 687.45v-2.40M169.45 407.00v2.40M177.18 687.45v-4.00M177.18 407.00v4.00M184.91 687.45v-2.40M184.91 407.00v2.40M192.64 687.45v-2.40M192.64 407.00v2.40M200.38 687.45v-2.40M200.38 407.00v2.40M208.11 687.45v-2.40M208.11 407.00v2.40M215.84 687.45v-4.00M215.84 407.00v4.00M223.57 687.45v-2.40M223.57 407.00v2.40M231.30 687.45v-2.40M231.30 407.00v2.40M239.04 687.45v-2.40M239.04 407.00v2.40M246.77 687.45v-2.40M246.77 407.00v2.40M254.50 687.45v-4.00M254.50 407.00v4.00M262.23 687.45v-2.40M262.23 407.00v2.40M269.96 687.45v-2.40M269.96 407.00v2.40M277.70 687.45v-2.40M277.70 407.00v2.40M285.43 687.45v-2.40M285.43 407.00v2.40M293.16 687.45v-4.00M293.16 407.00v4.00M300.89 687.45v-2.40M300.89 407.00v2.40M308.62 687.45v-2.40M308.62 407.00v2.40M316.36 687.45v-2.40M316.36 407.00v2.40M324.09 687.45v-2.40M324.09 407.00v2.40M331.82 687.45v-4.00M331.82 407.00v4.00M56.10 682.20h4.00M337.50 682.20h-4.00M56.10 667.84h2.40M337.50 667.84h-2.40M56.10 653.48h2.40M337.50 653.48h-2.40M56.10 639.12h2.40M337.50 639.12h-2.40M56.10 624.76h4.00M337.50 624.76h-4.00M56.10 610.40h2.40M337.50 610.40h-2.40M56.10 596.04h2.40M337.50 596.04h-2.40M56.10 581.68h2.40M337.50 581.68h-2.40M56.10 567.32h4.00M337.50 567.32h-4.00M56.10 552.96h2.40M337.50 552.96h-2.40M56.10 538.60h2.40M337.50 538.60h-2.40M56.10 524.24h2.40M337.50 524.24h-2.40M56.10 509.88h4.00M337.50 509.88h-4.00M56.10 495.52h2.40M337.50 495.52h-2.40M56.10 481.16h2.40M337.50 481.16h-2.40M56.10 466.80h2.40M337.50 466.80h-2.40M56.10 452.44h4.00M337.50 452.44h-4.00M56.10 438.08h2.40M337.50 438.08h-2.40M56.10 423.72h2.40M337.50 423.72h-2.40" stroke="#6a6a6a" stroke-width="0.9" fill="none"/>
<text x="61.20" y="708.90" text-anchor="middle" class="tl">- 2</text>
<text x="99.86" y="708.90" text-anchor="middle" class="tl">- 1</text>
<text x="138.52" y="708.90" text-anchor="middle" class="tl">0</text>
<text x="177.18" y="708.90" text-anchor="middle" class="tl">1</text>
<text x="215.84" y="708.90" text-anchor="middle" class="tl">2</text>
<text x="254.50" y="708.90" text-anchor="middle" class="tl">3</text>
<text x="293.16" y="708.90" text-anchor="middle" class="tl">4</text>
<text x="331.82" y="708.90" text-anchor="middle" class="tl">5</text>
<text x="52.70" y="688.70" text-anchor="end" class="tl">0.0</text>
<text x="52.70" y="631.26" text-anchor="end" class="tl">0.2</text>
<text x="52.70" y="573.82" text-anchor="end" class="tl">0.4</text>
<text x="52.70" y="516.38" text-anchor="end" class="tl">0.6</text>
<text x="52.70" y="458.94" text-anchor="end" class="tl">0.8</text>
<text x="196.51" y="736.60" text-anchor="middle" class="al">z</text>
<text transform="translate(16.20 547.30) rotate(-90)" text-anchor="middle" class="al">r</text>
<rect x="404.50" y="407.00" width="281.70" height="280.45" stroke="#9a9a9a" stroke-width="1.00" fill="none"/>
<path d="M410.20 687.45v-4.00M410.20 407.00v4.00M417.91 687.45v-2.40M417.91 407.00v2.40M425.62 687.45v-2.40M425.62 407.00v2.40M433.33 687.45v-2.40M433.33 407.00v2.40M441.04 687.45v-2.40M441.04 407.00v2.40M448.75 687.45v-4.00M448.75 407.00v4.00M456.46 687.45v-2.40M456.46 407.00v2.40M464.17 687.45v-2.40M464.17 407.00v2.40M471.88 687.45v-2.40M471.88 407.00v2.40M479.59 687.45v-2.40M479.59 407.00v2.40M487.30 687.45v-4.00M487.30 407.00v4.00M495.01 687.45v-2.40M495.01 407.00v2.40M502.72 687.45v-2.40M502.72 407.00v2.40M510.43 687.45v-2.40M510.43 407.00v2.40M518.14 687.45v-2.40M518.14 407.00v2.40M525.85 687.45v-4.00M525.85 407.00v4.00M533.56 687.45v-2.40M533.56 407.00v2.40M541.27 687.45v-2.40M541.27 407.00v2.40M548.98 687.45v-2.40M548.98 407.00v2.40M556.69 687.45v-2.40M556.69 407.00v2.40M564.40 687.45v-4.00M564.40 407.00v4.00M572.11 687.45v-2.40M572.11 407.00v2.40M579.82 687.45v-2.40M579.82 407.00v2.40M587.53 687.45v-2.40M587.53 407.00v2.40M595.24 687.45v-2.40M595.24 407.00v2.40M602.95 687.45v-4.00M602.95 407.00v4.00M610.66 687.45v-2.40M610.66 407.00v2.40M618.37 687.45v-2.40M618.37 407.00v2.40M626.08 687.45v-2.40M626.08 407.00v2.40M633.79 687.45v-2.40M633.79 407.00v2.40M641.50 687.45v-4.00M641.50 407.00v4.00M649.21 687.45v-2.40M649.21 407.00v2.40M656.92 687.45v-2.40M656.92 407.00v2.40M664.63 687.45v-2.40M664.63 407.00v2.40M672.34 687.45v-2.40M672.34 407.00v2.40M680.05 687.45v-4.00M680.05 407.00v4.00M404.50 682.20h4.00M686.20 682.20h-4.00M404.50 667.84h2.40M686.20 667.84h-2.40M404.50 653.48h2.40M686.20 653.48h-2.40M404.50 639.12h2.40M686.20 639.12h-2.40M404.50 624.76h4.00M686.20 624.76h-4.00M404.50 610.40h2.40M686.20 610.40h-2.40M404.50 596.04h2.40M686.20 596.04h-2.40M404.50 581.68h2.40M686.20 581.68h-2.40M404.50 567.32h4.00M686.20 567.32h-4.00M404.50 552.96h2.40M686.20 552.96h-2.40M404.50 538.60h2.40M686.20 538.60h-2.40M404.50 524.24h2.40M686.20 524.24h-2.40M404.50 509.88h4.00M686.20 509.88h-4.00M404.50 495.52h2.40M686.20 495.52h-2.40M404.50 481.16h2.40M686.20 481.16h-2.40M404.50 466.80h2.40M686.20 466.80h-2.40M404.50 452.44h4.00M686.20 452.44h-4.00M404.50 438.08h2.40M686.20 438.08h-2.40M404.50 423.72h2.40M686.20 423.72h-2.40" stroke="#6a6a6a" stroke-width="0.9" fill="none"/>
<text x="410.20" y="708.90" text-anchor="middle" class="tl">- 2</text>
<text x="448.75" y="708.90" text-anchor="middle" class="tl">- 1</text>
<text x="487.30" y="708.90" text-anchor="middle" class="tl">0</text>
<text x="525.85" y="708.90" text-anchor="middle" class="tl">1</text>
<text x="564.40" y="708.90" text-anchor="middle" class="tl">2</text>
<text x="602.95" y="708.90" text-anchor="middle" class="tl">3</text>
<text x="641.50" y="708.90" text-anchor="middle" class="tl">4</text>
<text x="680.05" y="708.90" text-anchor="middle" class="tl">5</text>
<text x="401.10" y="688.70" text-anchor="end" class="tl">0.0</text>
<text x="401.10" y="631.26" text-anchor="end" class="tl">0.2</text>
<text x="401.10" y="573.82" text-anchor="end" class="tl">0.4</text>
<text x="401.10" y="516.38" text-anchor="end" class="tl">0.6</text>
<text x="401.10" y="458.94" text-anchor="end" class="tl">0.8</text>
<text x="545.12" y="736.60" text-anchor="middle" class="al">z</text>
<text transform="translate(365.10 547.30) rotate(-90)" text-anchor="middle" class="al">r</text>
<text x="197.10" y="365.50" text-anchor="middle" class="cap">(a)</text>
<text x="545.80" y="365.50" text-anchor="middle" class="cap">(b)</text>
<text x="196.30" y="773.00" text-anchor="middle" class="cap">(c)</text>
<text x="544.80" y="773.00" text-anchor="middle" class="cap">(d)</text>
</g>
</svg></body></html>
